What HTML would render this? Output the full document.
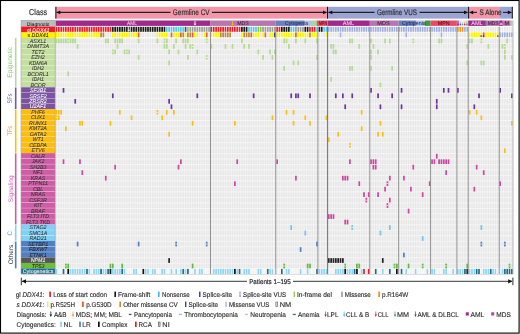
<!DOCTYPE html>
<html><head><meta charset="utf-8"><style>
html,body{margin:0;padding:0;background:#fff;}
svg{display:block;font-family:"Liberation Sans",sans-serif;will-change:transform;text-rendering:geometricPrecision;}
</style></head><body>
<svg width="520" height="334" viewBox="0 0 520 334">
<rect x="0" y="0" width="520" height="334" fill="#fff"/>
<text x="38.10" y="14.80" font-size="8.6" fill="#333" text-anchor="middle" textLength="18" lengthAdjust="spacingAndGlyphs" font-weight="normal" stroke="#333" stroke-width="0.2">Class</text>
<rect x="55.40" y="6.80" width="272.10" height="11.80" fill="#f396a8"/>
<rect x="327.50" y="6.80" width="141.00" height="11.80" fill="#9ba4d2"/>
<rect x="468.50" y="6.80" width="30.70" height="11.80" fill="#f396a8"/>
<rect x="499.20" y="6.80" width="13.30" height="11.80" fill="#9ba4d2"/>
<line x1="55.9" y1="6.8" x2="55.9" y2="18.6" stroke="#111" stroke-width="1"/>
<line x1="327.5" y1="6.8" x2="327.5" y2="18.6" stroke="#111" stroke-width="1"/>
<line x1="468.6" y1="6.8" x2="468.6" y2="18.6" stroke="#111" stroke-width="1"/>
<line x1="512.3" y1="6.8" x2="512.3" y2="18.6" stroke="#111" stroke-width="1"/>
<line x1="56.5" y1="12.4" x2="170.5" y2="12.4" stroke="#222" stroke-width="1.1"/>
<path d="M56.4 12.4 L60.3 10.5 L60.3 14.3 Z" fill="#111"/>
<line x1="212" y1="12.4" x2="326.5" y2="12.4" stroke="#222" stroke-width="1.1"/>
<path d="M326.9 12.4 L323.0 10.5 L323.0 14.3 Z" fill="#111"/>
<line x1="328.5" y1="12.4" x2="374.5" y2="12.4" stroke="#222" stroke-width="1.1"/>
<path d="M328.4 12.4 L332.29999999999995 10.5 L332.29999999999995 14.3 Z" fill="#111"/>
<line x1="419.5" y1="12.4" x2="467.5" y2="12.4" stroke="#222" stroke-width="1.1"/>
<path d="M467.9 12.4 L464.0 10.5 L464.0 14.3 Z" fill="#111"/>
<line x1="469.5" y1="12.4" x2="477" y2="12.4" stroke="#222" stroke-width="1.1"/>
<path d="M469.3 12.4 L473.2 10.5 L473.2 14.3 Z" fill="#111"/>
<line x1="503" y1="12.4" x2="511.5" y2="12.4" stroke="#222" stroke-width="1.1"/>
<path d="M511.7 12.4 L507.8 10.5 L507.8 14.3 Z" fill="#111"/>
<text x="191.20" y="14.90" font-size="8.0" fill="#333" text-anchor="middle" textLength="36.7" lengthAdjust="spacingAndGlyphs" font-weight="normal" stroke="#333" stroke-width="0.2">Germline CV</text>
<text x="396.90" y="14.90" font-size="8.0" fill="#333" text-anchor="middle" textLength="40" lengthAdjust="spacingAndGlyphs" font-weight="normal" stroke="#333" stroke-width="0.2">Germline VUS</text>
<text x="490.50" y="14.90" font-size="8.0" fill="#333" text-anchor="middle" textLength="22" lengthAdjust="spacingAndGlyphs" font-weight="normal" stroke="#333" stroke-width="0.2">S Alone</text>
<rect x="21.00" y="20.30" width="34.10" height="6.20" fill="#bdbdbd"/>
<text x="38.05" y="25.50" font-size="5.2" fill="#222" text-anchor="middle" textLength="22.6" lengthAdjust="spacingAndGlyphs" font-weight="normal" stroke="#222" stroke-width="0.05">Diagnosis</text>
<rect x="21.00" y="26.50" width="34.10" height="5.90" fill="#ed1c24"/>
<text x="38.05" y="31.7" font-size="5.3" fill="#fff" stroke="#fff" stroke-width="0.05" text-anchor="middle">gl <tspan font-style="italic">DDX41</tspan></text>
<rect x="21.00" y="32.40" width="34.10" height="5.70" fill="#fff200"/>
<text x="38.05" y="37.4" font-size="5.3" fill="#222" stroke="#222" stroke-width="0.05" text-anchor="middle">s <tspan font-style="italic">DDX41</tspan></text>
<rect x="21.00" y="37.85" width="34.10" height="5.49" fill="#c4df9f"/>
<text x="38.05" y="42.60" font-size="5.3" fill="#333" text-anchor="middle" font-style="italic" font-weight="normal" stroke="#333" stroke-width="0.05">ASXL1</text>
<rect x="21.00" y="43.34" width="34.10" height="5.49" fill="#c4df9f"/>
<rect x="21.00" y="43.09" width="34.10" height="0.50" fill="#ffffff" opacity="0.45"/>
<text x="38.05" y="48.09" font-size="5.3" fill="#333" text-anchor="middle" font-style="italic" font-weight="normal" stroke="#333" stroke-width="0.05">DNMT3A</text>
<rect x="21.00" y="48.83" width="34.10" height="5.49" fill="#c4df9f"/>
<rect x="21.00" y="48.58" width="34.10" height="0.50" fill="#ffffff" opacity="0.45"/>
<text x="38.05" y="53.58" font-size="5.3" fill="#333" text-anchor="middle" font-style="italic" font-weight="normal" stroke="#333" stroke-width="0.05">TET2</text>
<rect x="21.00" y="54.32" width="34.10" height="5.49" fill="#c4df9f"/>
<rect x="21.00" y="54.07" width="34.10" height="0.50" fill="#ffffff" opacity="0.45"/>
<text x="38.05" y="59.07" font-size="5.3" fill="#333" text-anchor="middle" font-style="italic" font-weight="normal" stroke="#333" stroke-width="0.05">EZH2</text>
<rect x="21.00" y="59.81" width="34.10" height="5.49" fill="#c4df9f"/>
<rect x="21.00" y="59.56" width="34.10" height="0.50" fill="#ffffff" opacity="0.45"/>
<text x="38.05" y="64.56" font-size="5.3" fill="#333" text-anchor="middle" font-style="italic" font-weight="normal" stroke="#333" stroke-width="0.05">KDM6A</text>
<rect x="21.00" y="65.30" width="34.10" height="5.49" fill="#c4df9f"/>
<rect x="21.00" y="65.05" width="34.10" height="0.50" fill="#ffffff" opacity="0.45"/>
<text x="38.05" y="70.05" font-size="5.3" fill="#333" text-anchor="middle" font-style="italic" font-weight="normal" stroke="#333" stroke-width="0.05">IDH2</text>
<rect x="21.00" y="70.79" width="34.10" height="5.49" fill="#c4df9f"/>
<rect x="21.00" y="70.54" width="34.10" height="0.50" fill="#ffffff" opacity="0.45"/>
<text x="38.05" y="75.54" font-size="5.3" fill="#333" text-anchor="middle" font-style="italic" font-weight="normal" stroke="#333" stroke-width="0.05">BCORL1</text>
<rect x="21.00" y="76.28" width="34.10" height="5.49" fill="#c4df9f"/>
<rect x="21.00" y="76.03" width="34.10" height="0.50" fill="#ffffff" opacity="0.45"/>
<text x="38.05" y="81.03" font-size="5.3" fill="#333" text-anchor="middle" font-style="italic" font-weight="normal" stroke="#333" stroke-width="0.05">IDH1</text>
<rect x="21.00" y="81.77" width="34.10" height="5.49" fill="#c4df9f"/>
<rect x="21.00" y="81.52" width="34.10" height="0.50" fill="#ffffff" opacity="0.45"/>
<text x="38.05" y="86.52" font-size="5.3" fill="#333" text-anchor="middle" font-style="italic" font-weight="normal" stroke="#333" stroke-width="0.05">BCOR</text>
<rect x="21.00" y="87.26" width="34.10" height="5.49" fill="#7a54a1"/>
<text x="38.05" y="92.01" font-size="5.3" fill="#fff" text-anchor="middle" font-style="italic" font-weight="normal" stroke="#fff" stroke-width="0.05">SF3B1</text>
<rect x="21.00" y="92.75" width="34.10" height="5.49" fill="#7a54a1"/>
<rect x="21.00" y="92.50" width="34.10" height="0.50" fill="#ffffff" opacity="0.45"/>
<text x="38.05" y="97.50" font-size="5.3" fill="#fff" text-anchor="middle" font-style="italic" font-weight="normal" stroke="#fff" stroke-width="0.05">SRSF2</text>
<rect x="21.00" y="98.24" width="34.10" height="5.49" fill="#7a54a1"/>
<rect x="21.00" y="97.99" width="34.10" height="0.50" fill="#ffffff" opacity="0.45"/>
<text x="38.05" y="102.99" font-size="5.3" fill="#fff" text-anchor="middle" font-style="italic" font-weight="normal" stroke="#fff" stroke-width="0.05">ZRSR2</text>
<rect x="21.00" y="103.73" width="34.10" height="5.49" fill="#7a54a1"/>
<rect x="21.00" y="103.48" width="34.10" height="0.50" fill="#ffffff" opacity="0.45"/>
<text x="38.05" y="108.48" font-size="5.3" fill="#fff" text-anchor="middle" font-style="italic" font-weight="normal" stroke="#fff" stroke-width="0.05">U2AF1</text>
<rect x="21.00" y="109.22" width="34.10" height="5.49" fill="#fdbd10"/>
<text x="38.05" y="113.97" font-size="5.3" fill="#333" text-anchor="middle" font-style="italic" font-weight="normal" stroke="#333" stroke-width="0.05">PHF6</text>
<rect x="21.00" y="114.71" width="34.10" height="5.49" fill="#fdbd10"/>
<rect x="21.00" y="114.46" width="34.10" height="0.50" fill="#ffffff" opacity="0.45"/>
<text x="38.05" y="119.46" font-size="5.3" fill="#333" text-anchor="middle" font-style="italic" font-weight="normal" stroke="#333" stroke-width="0.05">CUX1</text>
<rect x="21.00" y="120.20" width="34.10" height="5.49" fill="#fdbd10"/>
<rect x="21.00" y="119.95" width="34.10" height="0.50" fill="#ffffff" opacity="0.45"/>
<text x="38.05" y="124.95" font-size="5.3" fill="#333" text-anchor="middle" font-style="italic" font-weight="normal" stroke="#333" stroke-width="0.05">RUNX1</text>
<rect x="21.00" y="125.69" width="34.10" height="5.49" fill="#fdbd10"/>
<rect x="21.00" y="125.44" width="34.10" height="0.50" fill="#ffffff" opacity="0.45"/>
<text x="38.05" y="130.44" font-size="5.3" fill="#333" text-anchor="middle" font-style="italic" font-weight="normal" stroke="#333" stroke-width="0.05">KMT2A</text>
<rect x="21.00" y="131.18" width="34.10" height="5.49" fill="#fdbd10"/>
<rect x="21.00" y="130.93" width="34.10" height="0.50" fill="#ffffff" opacity="0.45"/>
<text x="38.05" y="135.93" font-size="5.3" fill="#333" text-anchor="middle" font-style="italic" font-weight="normal" stroke="#333" stroke-width="0.05">GATA2</text>
<rect x="21.00" y="136.67" width="34.10" height="5.49" fill="#fdbd10"/>
<rect x="21.00" y="136.42" width="34.10" height="0.50" fill="#ffffff" opacity="0.45"/>
<text x="38.05" y="141.42" font-size="5.3" fill="#333" text-anchor="middle" font-style="italic" font-weight="normal" stroke="#333" stroke-width="0.05">WT1</text>
<rect x="21.00" y="142.16" width="34.10" height="5.49" fill="#fdbd10"/>
<rect x="21.00" y="141.91" width="34.10" height="0.50" fill="#ffffff" opacity="0.45"/>
<text x="38.05" y="146.91" font-size="5.3" fill="#333" text-anchor="middle" font-style="italic" font-weight="normal" stroke="#333" stroke-width="0.05">CEBPA</text>
<rect x="21.00" y="147.65" width="34.10" height="5.49" fill="#fdbd10"/>
<rect x="21.00" y="147.40" width="34.10" height="0.50" fill="#ffffff" opacity="0.45"/>
<text x="38.05" y="152.40" font-size="5.3" fill="#333" text-anchor="middle" font-style="italic" font-weight="normal" stroke="#333" stroke-width="0.05">ETV6</text>
<rect x="21.00" y="153.14" width="34.10" height="5.49" fill="#cd5ea6"/>
<text x="38.05" y="157.89" font-size="5.3" fill="#333" text-anchor="middle" font-style="italic" font-weight="normal" stroke="#333" stroke-width="0.05">CALR</text>
<rect x="21.00" y="158.63" width="34.10" height="5.49" fill="#cd5ea6"/>
<rect x="21.00" y="158.38" width="34.10" height="0.50" fill="#ffffff" opacity="0.45"/>
<text x="38.05" y="163.38" font-size="5.3" fill="#333" text-anchor="middle" font-style="italic" font-weight="normal" stroke="#333" stroke-width="0.05">JAK2</text>
<rect x="21.00" y="164.12" width="34.10" height="5.49" fill="#cd5ea6"/>
<rect x="21.00" y="163.87" width="34.10" height="0.50" fill="#ffffff" opacity="0.45"/>
<text x="38.05" y="168.87" font-size="5.3" fill="#333" text-anchor="middle" font-style="italic" font-weight="normal" stroke="#333" stroke-width="0.05">SH2B3</text>
<rect x="21.00" y="169.61" width="34.10" height="5.49" fill="#cd5ea6"/>
<rect x="21.00" y="169.36" width="34.10" height="0.50" fill="#ffffff" opacity="0.45"/>
<text x="38.05" y="174.36" font-size="5.3" fill="#333" text-anchor="middle" font-style="italic" font-weight="normal" stroke="#333" stroke-width="0.05">NF1</text>
<rect x="21.00" y="175.10" width="34.10" height="5.49" fill="#cd5ea6"/>
<rect x="21.00" y="174.85" width="34.10" height="0.50" fill="#ffffff" opacity="0.45"/>
<text x="38.05" y="179.85" font-size="5.3" fill="#333" text-anchor="middle" font-style="italic" font-weight="normal" stroke="#333" stroke-width="0.05">KRAS</text>
<rect x="21.00" y="180.59" width="34.10" height="5.49" fill="#cd5ea6"/>
<rect x="21.00" y="180.34" width="34.10" height="0.50" fill="#ffffff" opacity="0.45"/>
<text x="38.05" y="185.34" font-size="5.3" fill="#333" text-anchor="middle" font-style="italic" font-weight="normal" stroke="#333" stroke-width="0.05">PTPN11</text>
<rect x="21.00" y="186.08" width="34.10" height="5.49" fill="#cd5ea6"/>
<rect x="21.00" y="185.83" width="34.10" height="0.50" fill="#ffffff" opacity="0.45"/>
<text x="38.05" y="190.83" font-size="5.3" fill="#333" text-anchor="middle" font-style="italic" font-weight="normal" stroke="#333" stroke-width="0.05">CBL</text>
<rect x="21.00" y="191.57" width="34.10" height="5.49" fill="#cd5ea6"/>
<rect x="21.00" y="191.32" width="34.10" height="0.50" fill="#ffffff" opacity="0.45"/>
<text x="38.05" y="196.32" font-size="5.3" fill="#333" text-anchor="middle" font-style="italic" font-weight="normal" stroke="#333" stroke-width="0.05">NRAS</text>
<rect x="21.00" y="197.06" width="34.10" height="5.49" fill="#cd5ea6"/>
<rect x="21.00" y="196.81" width="34.10" height="0.50" fill="#ffffff" opacity="0.45"/>
<text x="38.05" y="201.81" font-size="5.3" fill="#333" text-anchor="middle" font-style="italic" font-weight="normal" stroke="#333" stroke-width="0.05">CSF3R</text>
<rect x="21.00" y="202.55" width="34.10" height="5.49" fill="#cd5ea6"/>
<rect x="21.00" y="202.30" width="34.10" height="0.50" fill="#ffffff" opacity="0.45"/>
<text x="38.05" y="207.30" font-size="5.3" fill="#333" text-anchor="middle" font-style="italic" font-weight="normal" stroke="#333" stroke-width="0.05">KIT</text>
<rect x="21.00" y="208.04" width="34.10" height="5.49" fill="#cd5ea6"/>
<rect x="21.00" y="207.79" width="34.10" height="0.50" fill="#ffffff" opacity="0.45"/>
<text x="38.05" y="212.79" font-size="5.3" fill="#333" text-anchor="middle" font-style="italic" font-weight="normal" stroke="#333" stroke-width="0.05">BRAF</text>
<rect x="21.00" y="213.53" width="34.10" height="5.49" fill="#cd5ea6"/>
<rect x="21.00" y="213.28" width="34.10" height="0.50" fill="#ffffff" opacity="0.45"/>
<text x="38.05" y="218.28" font-size="5.3" fill="#333" text-anchor="middle" font-style="italic" font-weight="normal" stroke="#333" stroke-width="0.05">FLT3 ITD</text>
<rect x="21.00" y="219.02" width="34.10" height="5.49" fill="#cd5ea6"/>
<rect x="21.00" y="218.77" width="34.10" height="0.50" fill="#ffffff" opacity="0.45"/>
<text x="38.05" y="223.77" font-size="5.3" fill="#333" text-anchor="middle" font-style="italic" font-weight="normal" stroke="#333" stroke-width="0.05">FLT3 TKD</text>
<rect x="21.00" y="224.51" width="34.10" height="5.49" fill="#82d1f5"/>
<text x="38.05" y="229.26" font-size="5.3" fill="#333" text-anchor="middle" font-style="italic" font-weight="normal" stroke="#333" stroke-width="0.05">STAG2</text>
<rect x="21.00" y="230.00" width="34.10" height="5.49" fill="#82d1f5"/>
<rect x="21.00" y="229.75" width="34.10" height="0.50" fill="#ffffff" opacity="0.45"/>
<text x="38.05" y="234.75" font-size="5.3" fill="#333" text-anchor="middle" font-style="italic" font-weight="normal" stroke="#333" stroke-width="0.05">SMC1A</text>
<rect x="21.00" y="235.49" width="34.10" height="5.49" fill="#82d1f5"/>
<rect x="21.00" y="235.24" width="34.10" height="0.50" fill="#ffffff" opacity="0.45"/>
<text x="38.05" y="240.24" font-size="5.3" fill="#333" text-anchor="middle" font-style="italic" font-weight="normal" stroke="#333" stroke-width="0.05">RAD21</text>
<rect x="21.00" y="240.98" width="34.10" height="5.49" fill="#527fc2"/>
<text x="38.05" y="245.73" font-size="5.3" fill="#222" text-anchor="middle" font-style="italic" font-weight="normal" stroke="#222" stroke-width="0.05">SETBP1</text>
<rect x="21.00" y="246.47" width="34.10" height="5.49" fill="#527fc2"/>
<rect x="21.00" y="246.22" width="34.10" height="0.50" fill="#ffffff" opacity="0.45"/>
<text x="38.05" y="251.22" font-size="5.3" fill="#222" text-anchor="middle" font-style="italic" font-weight="normal" stroke="#222" stroke-width="0.05">FBXW7</text>
<rect x="21.00" y="251.96" width="34.10" height="5.49" fill="#527fc2"/>
<rect x="21.00" y="251.71" width="34.10" height="0.50" fill="#ffffff" opacity="0.45"/>
<text x="38.05" y="256.71" font-size="5.3" fill="#222" text-anchor="middle" font-style="italic" font-weight="normal" stroke="#222" stroke-width="0.05">ETNK1</text>
<rect x="21.00" y="257.45" width="34.10" height="5.49" fill="#55555a"/>
<text x="38.05" y="262.20" font-size="5.3" fill="#fff" text-anchor="middle" font-style="italic" font-weight="normal" stroke="#fff" stroke-width="0.05">NPM1</text>
<rect x="21.00" y="262.94" width="34.10" height="5.49" fill="#6ebe3c"/>
<text x="38.05" y="267.69" font-size="5.3" fill="#222" text-anchor="middle" font-style="italic" font-weight="normal" stroke="#222" stroke-width="0.05">TP53</text>
<rect x="21.00" y="268.43" width="34.10" height="5.49" fill="#1e6e8c"/>
<text x="38.05" y="273.18" font-size="5.3" fill="#fff" text-anchor="middle" font-weight="normal" stroke="#fff" stroke-width="0.05">Cytogenetics</text>
<rect x="21.0" y="20.3" width="34.1" height="253.62" fill="none" stroke="#9a9a9a" stroke-width="0.5"/>
<rect x="14.90" y="38.00" width="1.60" height="48.80" fill="#b5d9a0"/>
<rect x="14.90" y="87.50" width="1.60" height="21.50" fill="#7a54a1"/>
<rect x="14.90" y="109.60" width="1.60" height="43.20" fill="#fdbd10"/>
<rect x="14.90" y="153.40" width="1.60" height="71.00" fill="#cd5ea6"/>
<rect x="14.90" y="225.10" width="1.60" height="15.50" fill="#82d1f5"/>
<rect x="14.90" y="241.50" width="1.60" height="26.90" fill="#527fc2"/>
<text x="0" y="0" font-size="6.6" fill="#8ec77a" text-anchor="middle" textLength="30.7" lengthAdjust="spacingAndGlyphs" transform="translate(11.9,62.3) rotate(-90)">Epigenetic</text>
<text x="0" y="0" font-size="6.6" fill="#7650a6" text-anchor="middle" textLength="10" lengthAdjust="spacingAndGlyphs" transform="translate(11.6,98.5) rotate(-90)">SFs</text>
<text x="0" y="0" font-size="6.6" fill="#f5883d" text-anchor="middle" textLength="9.5" lengthAdjust="spacingAndGlyphs" transform="translate(12.0,130.8) rotate(-90)">TFs</text>
<text x="0" y="0" font-size="6.6" fill="#d064b6" text-anchor="middle" textLength="26.8" lengthAdjust="spacingAndGlyphs" transform="translate(12.6,188.8) rotate(-90)">Signaling</text>
<text x="0" y="0" font-size="6.6" fill="#4fa8dc" text-anchor="middle" textLength="4.5" lengthAdjust="spacingAndGlyphs" transform="translate(12.2,233.3) rotate(-90)">C</text>
<text x="0" y="0" font-size="6.6" fill="#333" text-anchor="middle" textLength="19.7" lengthAdjust="spacingAndGlyphs" transform="translate(12.6,254.5) rotate(-90)">Others</text>
<rect x="55.60" y="20.50" width="154.90" height="5.40" fill="#a02a8c"/>
<rect x="210.50" y="20.50" width="65.30" height="5.40" fill="#b776ad"/>
<rect x="275.80" y="20.50" width="28.80" height="5.40" fill="#6b81bf"/>
<rect x="304.60" y="20.50" width="6.40" height="5.40" fill="#aec2ec"/>
<rect x="311.00" y="20.50" width="5.70" height="5.40" fill="#a8d79b"/>
<rect x="316.70" y="20.50" width="1.20" height="5.40" fill="#3b9a48"/>
<rect x="317.90" y="20.50" width="9.70" height="5.40" fill="#ea4b63"/>
<rect x="327.60" y="20.50" width="42.20" height="5.40" fill="#a02a8c"/>
<rect x="369.80" y="20.50" width="28.90" height="5.40" fill="#b776ad"/>
<rect x="398.70" y="20.50" width="17.30" height="5.40" fill="#6b81bf"/>
<rect x="416.00" y="20.50" width="7.00" height="5.40" fill="#aec2ec"/>
<rect x="423.00" y="20.50" width="2.00" height="5.40" fill="#a8d79b"/>
<rect x="425.00" y="20.50" width="5.60" height="5.40" fill="#3b9a48"/>
<rect x="430.60" y="20.50" width="26.30" height="5.40" fill="#ea4b63"/>
<rect x="456.90" y="20.50" width="2.30" height="5.40" fill="#7d8fd6"/>
<rect x="459.20" y="20.50" width="2.40" height="5.40" fill="#f0d8ec"/>
<rect x="461.60" y="20.50" width="1.90" height="5.40" fill="#eef0f8"/>
<rect x="463.50" y="20.50" width="2.40" height="5.40" fill="#f6d8e0"/>
<rect x="465.90" y="20.50" width="2.30" height="5.40" fill="#bfe3b5"/>
<rect x="468.20" y="20.50" width="17.80" height="5.40" fill="#a02a8c"/>
<rect x="486.00" y="20.50" width="13.20" height="5.40" fill="#b776ad"/>
<rect x="499.20" y="20.50" width="3.50" height="5.40" fill="#a11f90"/>
<rect x="502.70" y="20.50" width="8.00" height="5.40" fill="#b776ad"/>
<rect x="510.70" y="20.50" width="1.90" height="5.40" fill="#a8d79b"/>
<text x="132.00" y="25.3" font-size="5.5" fill="#f3cdea" stroke="#f3cdea" stroke-width="0.06" text-anchor="middle" textLength="9.8" lengthAdjust="spacingAndGlyphs">AML</text>
<text x="243.00" y="25.3" font-size="5.5" fill="#3a1838" stroke="#3a1838" stroke-width="0.06" text-anchor="middle" textLength="11.6" lengthAdjust="spacingAndGlyphs">MDS</text>
<text x="296.50" y="25.3" font-size="5.5" fill="#1f2d5a" stroke="#1f2d5a" stroke-width="0.06" text-anchor="middle" textLength="23.0" lengthAdjust="spacingAndGlyphs">Cytopenia</text>
<text x="323.00" y="25.3" font-size="5.5" fill="#4a0c18" stroke="#4a0c18" stroke-width="0.06" text-anchor="middle" textLength="8.0" lengthAdjust="spacingAndGlyphs">MPN</text>
<text x="348.45" y="25.3" font-size="5.5" fill="#f3cdea" stroke="#f3cdea" stroke-width="0.06" text-anchor="middle" textLength="11.5" lengthAdjust="spacingAndGlyphs">AML</text>
<text x="383.45" y="25.3" font-size="5.5" fill="#3a1838" stroke="#3a1838" stroke-width="0.06" text-anchor="middle" textLength="12.3" lengthAdjust="spacingAndGlyphs">MDS</text>
<text x="413.90" y="25.3" font-size="5.5" fill="#1f2d5a" stroke="#1f2d5a" stroke-width="0.06" text-anchor="middle" textLength="23.8" lengthAdjust="spacingAndGlyphs">Cytopenia</text>
<text x="443.70" y="25.3" font-size="5.5" fill="#4a0c18" stroke="#4a0c18" stroke-width="0.06" text-anchor="middle" textLength="11.8" lengthAdjust="spacingAndGlyphs">MPN</text>
<text x="476.95" y="25.3" font-size="5.5" fill="#f3cdea" stroke="#f3cdea" stroke-width="0.06" text-anchor="middle" textLength="11.5" lengthAdjust="spacingAndGlyphs">AML</text>
<text x="493.20" y="25.3" font-size="5.5" fill="#3a1838" stroke="#3a1838" stroke-width="0.06" text-anchor="middle" textLength="10.8" lengthAdjust="spacingAndGlyphs">MDS</text>
<text x="506.80" y="25.3" font-size="5.5" fill="#3a1838" stroke="#3a1838" stroke-width="0.06" text-anchor="middle" textLength="4.6" lengthAdjust="spacingAndGlyphs">M</text>
<text x="501.05" y="25.3" font-size="4.2" fill="#f8e0f4" stroke="#f8e0f4" stroke-width="0.06" text-anchor="middle" textLength="2.5" lengthAdjust="spacingAndGlyphs">a</text>
<rect x="55.60" y="26.80" width="1.72" height="5.00" fill="#ee1d25"/>
<rect x="57.95" y="26.80" width="1.72" height="5.00" fill="#ee1d25"/>
<rect x="60.30" y="26.80" width="1.72" height="5.00" fill="#ee1d25"/>
<rect x="62.64" y="26.80" width="1.72" height="5.00" fill="#ee1d25"/>
<rect x="64.99" y="26.80" width="1.72" height="5.00" fill="#ee1d25"/>
<rect x="67.34" y="26.80" width="1.72" height="5.00" fill="#ee1d25"/>
<rect x="69.69" y="26.80" width="1.72" height="5.00" fill="#ee1d25"/>
<rect x="72.03" y="26.80" width="1.72" height="5.00" fill="#ee1d25"/>
<rect x="74.38" y="26.80" width="1.72" height="5.00" fill="#ee1d25"/>
<rect x="76.73" y="26.80" width="1.72" height="5.00" fill="#ee1d25"/>
<rect x="79.08" y="26.80" width="1.72" height="5.00" fill="#ee1d25"/>
<rect x="81.42" y="26.80" width="1.72" height="5.00" fill="#ee1d25"/>
<rect x="83.77" y="26.80" width="1.72" height="5.00" fill="#ee1d25"/>
<rect x="86.12" y="26.80" width="1.72" height="5.00" fill="#ee1d25"/>
<rect x="88.47" y="26.80" width="1.72" height="5.00" fill="#ee1d25"/>
<rect x="90.81" y="26.80" width="1.72" height="5.00" fill="#ee1d25"/>
<rect x="93.16" y="26.80" width="1.72" height="5.00" fill="#ee1d25"/>
<rect x="95.51" y="26.80" width="1.72" height="5.00" fill="#ee1d25"/>
<rect x="97.86" y="26.80" width="1.72" height="5.00" fill="#ee1d25"/>
<rect x="100.20" y="26.80" width="1.72" height="5.00" fill="#ee1d25"/>
<rect x="102.55" y="26.80" width="1.72" height="5.00" fill="#ee1d25"/>
<rect x="104.90" y="26.80" width="1.72" height="5.00" fill="#ee1d25"/>
<rect x="107.25" y="26.80" width="1.72" height="5.00" fill="#ee1d25"/>
<rect x="109.59" y="26.80" width="1.72" height="5.00" fill="#ee1d25"/>
<rect x="111.94" y="26.80" width="1.72" height="5.00" fill="#1c1c1c"/>
<rect x="114.29" y="26.80" width="1.72" height="5.00" fill="#1c1c1c"/>
<rect x="116.64" y="26.80" width="1.72" height="5.00" fill="#1c1c1c"/>
<rect x="118.98" y="26.80" width="1.72" height="5.00" fill="#1c1c1c"/>
<rect x="121.33" y="26.80" width="1.72" height="5.00" fill="#1c1c1c"/>
<rect x="123.68" y="26.80" width="1.72" height="5.00" fill="#1c1c1c"/>
<rect x="126.03" y="26.80" width="1.72" height="5.00" fill="#1c1c1c"/>
<rect x="128.37" y="26.80" width="1.72" height="5.00" fill="#1c1c1c"/>
<rect x="130.72" y="26.80" width="1.72" height="5.00" fill="#1c1c1c"/>
<rect x="133.07" y="26.80" width="1.72" height="5.00" fill="#1c1c1c"/>
<rect x="135.41" y="26.80" width="1.72" height="5.00" fill="#1c1c1c"/>
<rect x="137.76" y="26.80" width="1.72" height="5.00" fill="#1c1c1c"/>
<rect x="140.11" y="26.80" width="1.72" height="5.00" fill="#1c1c1c"/>
<rect x="142.46" y="26.80" width="1.72" height="5.00" fill="#1c1c1c"/>
<rect x="144.81" y="26.80" width="1.72" height="5.00" fill="#1c1c1c"/>
<rect x="147.15" y="26.80" width="1.72" height="5.00" fill="#1c1c1c"/>
<rect x="149.50" y="26.80" width="1.72" height="5.00" fill="#1c1c1c"/>
<rect x="151.85" y="26.80" width="1.72" height="5.00" fill="#1c1c1c"/>
<rect x="154.19" y="26.80" width="1.72" height="5.00" fill="#1c1c1c"/>
<rect x="156.54" y="26.80" width="1.72" height="5.00" fill="#1c1c1c"/>
<rect x="158.89" y="26.80" width="1.72" height="5.00" fill="#1c1c1c"/>
<rect x="161.24" y="26.80" width="1.72" height="5.00" fill="#1c1c1c"/>
<rect x="163.59" y="26.80" width="1.72" height="5.00" fill="#1c1c1c"/>
<rect x="165.93" y="26.80" width="1.72" height="5.00" fill="#56c5f0"/>
<rect x="168.28" y="26.80" width="1.72" height="5.00" fill="#56c5f0"/>
<rect x="170.63" y="26.80" width="1.72" height="5.00" fill="#56c5f0"/>
<rect x="172.97" y="26.80" width="1.72" height="5.00" fill="#56c5f0"/>
<rect x="175.32" y="26.80" width="1.72" height="5.00" fill="#56c5f0"/>
<rect x="177.67" y="26.80" width="1.72" height="5.00" fill="#56c5f0"/>
<rect x="180.02" y="26.80" width="1.72" height="5.00" fill="#56c5f0"/>
<rect x="182.37" y="26.80" width="1.72" height="5.00" fill="#56c5f0"/>
<rect x="184.71" y="26.80" width="1.72" height="5.00" fill="#2c4fa3"/>
<rect x="187.06" y="26.80" width="1.72" height="5.00" fill="#8cc63f"/>
<rect x="189.41" y="26.80" width="1.72" height="5.00" fill="#9b9b9b"/>
<rect x="191.75" y="26.80" width="1.72" height="5.00" fill="#9b9b9b"/>
<rect x="194.10" y="26.80" width="1.72" height="5.00" fill="#9b9b9b"/>
<rect x="196.45" y="26.80" width="1.72" height="5.00" fill="#9b9b9b"/>
<rect x="198.80" y="26.80" width="1.72" height="5.00" fill="#9b9b9b"/>
<rect x="201.15" y="26.80" width="1.72" height="5.00" fill="#9b9b9b"/>
<rect x="203.49" y="26.80" width="1.72" height="5.00" fill="#9b9b9b"/>
<rect x="205.84" y="26.80" width="1.72" height="5.00" fill="#9b9b9b"/>
<rect x="208.19" y="26.80" width="1.72" height="5.00" fill="#9b9b9b"/>
<rect x="210.53" y="26.80" width="1.72" height="5.00" fill="#ee1d25"/>
<rect x="212.88" y="26.80" width="1.72" height="5.00" fill="#ee1d25"/>
<rect x="215.23" y="26.80" width="1.72" height="5.00" fill="#ee1d25"/>
<rect x="217.58" y="26.80" width="1.72" height="5.00" fill="#ee1d25"/>
<rect x="219.93" y="26.80" width="1.72" height="5.00" fill="#ee1d25"/>
<rect x="222.27" y="26.80" width="1.72" height="5.00" fill="#ee1d25"/>
<rect x="224.62" y="26.80" width="1.72" height="5.00" fill="#ee1d25"/>
<rect x="226.97" y="26.80" width="1.72" height="5.00" fill="#ee1d25"/>
<rect x="229.31" y="26.80" width="1.72" height="5.00" fill="#ee1d25"/>
<rect x="231.66" y="26.80" width="1.72" height="5.00" fill="#ee1d25"/>
<rect x="234.01" y="26.80" width="1.72" height="5.00" fill="#ee1d25"/>
<rect x="236.36" y="26.80" width="1.72" height="5.00" fill="#ee1d25"/>
<rect x="238.71" y="26.80" width="1.72" height="5.00" fill="#ee1d25"/>
<rect x="241.05" y="26.80" width="1.72" height="5.00" fill="#1c1c1c"/>
<rect x="243.40" y="26.80" width="1.72" height="5.00" fill="#1c1c1c"/>
<rect x="245.75" y="26.80" width="1.72" height="5.00" fill="#1c1c1c"/>
<rect x="248.09" y="26.80" width="1.72" height="5.00" fill="#56c5f0"/>
<rect x="250.44" y="26.80" width="1.72" height="5.00" fill="#56c5f0"/>
<rect x="252.79" y="26.80" width="1.72" height="5.00" fill="#56c5f0"/>
<rect x="255.14" y="26.80" width="1.72" height="5.00" fill="#56c5f0"/>
<rect x="257.49" y="26.80" width="1.72" height="5.00" fill="#8cc63f"/>
<rect x="259.83" y="26.80" width="1.72" height="5.00" fill="#8cc63f"/>
<rect x="262.18" y="26.80" width="1.72" height="5.00" fill="#9b9b9b"/>
<rect x="264.53" y="26.80" width="1.72" height="5.00" fill="#9b9b9b"/>
<rect x="266.88" y="26.80" width="1.72" height="5.00" fill="#9b9b9b"/>
<rect x="269.22" y="26.80" width="1.72" height="5.00" fill="#9b9b9b"/>
<rect x="271.57" y="26.80" width="1.72" height="5.00" fill="#9b9b9b"/>
<rect x="273.92" y="26.80" width="1.72" height="5.00" fill="#9b9b9b"/>
<rect x="276.27" y="26.80" width="1.72" height="5.00" fill="#ee1d25"/>
<rect x="278.61" y="26.80" width="1.72" height="5.00" fill="#ee1d25"/>
<rect x="280.96" y="26.80" width="1.72" height="5.00" fill="#1c1c1c"/>
<rect x="283.31" y="26.80" width="1.72" height="5.00" fill="#1c1c1c"/>
<rect x="285.66" y="26.80" width="1.72" height="5.00" fill="#1c1c1c"/>
<rect x="288.00" y="26.80" width="1.72" height="5.00" fill="#1c1c1c"/>
<rect x="290.35" y="26.80" width="1.72" height="5.00" fill="#56c5f0"/>
<rect x="292.70" y="26.80" width="1.72" height="5.00" fill="#56c5f0"/>
<rect x="295.05" y="26.80" width="1.72" height="5.00" fill="#9b9b9b"/>
<rect x="297.39" y="26.80" width="1.72" height="5.00" fill="#9b9b9b"/>
<rect x="299.74" y="26.80" width="1.72" height="5.00" fill="#9b9b9b"/>
<rect x="302.09" y="26.80" width="1.72" height="5.00" fill="#9b9b9b"/>
<rect x="304.44" y="26.80" width="1.72" height="5.00" fill="#1c1c1c"/>
<rect x="306.78" y="26.80" width="1.72" height="5.00" fill="#1c1c1c"/>
<rect x="309.13" y="26.80" width="1.72" height="5.00" fill="#ee1d25"/>
<rect x="311.48" y="26.80" width="1.72" height="5.00" fill="#ee1d25"/>
<rect x="313.83" y="26.80" width="1.72" height="5.00" fill="#ee1d25"/>
<rect x="316.17" y="26.80" width="1.72" height="5.00" fill="#56c5f0"/>
<rect x="318.52" y="26.80" width="1.72" height="5.00" fill="#1c1c1c"/>
<rect x="320.87" y="26.80" width="1.72" height="5.00" fill="#1c1c1c"/>
<rect x="323.22" y="26.80" width="1.72" height="5.00" fill="#56c5f0"/>
<rect x="325.56" y="26.80" width="1.72" height="5.00" fill="#56c5f0"/>
<rect x="327.91" y="26.80" width="1.72" height="5.00" fill="#a3afe0"/>
<rect x="330.26" y="26.80" width="1.72" height="5.00" fill="#a3afe0"/>
<rect x="332.61" y="26.80" width="1.72" height="5.00" fill="#a3afe0"/>
<rect x="334.95" y="26.80" width="1.72" height="5.00" fill="#a3afe0"/>
<rect x="337.30" y="26.80" width="1.72" height="5.00" fill="#a3afe0"/>
<rect x="339.65" y="26.80" width="1.72" height="5.00" fill="#a3afe0"/>
<rect x="342.00" y="26.80" width="1.72" height="5.00" fill="#a3afe0"/>
<rect x="344.34" y="26.80" width="1.72" height="5.00" fill="#a3afe0"/>
<rect x="346.69" y="26.80" width="1.72" height="5.00" fill="#a3afe0"/>
<rect x="349.04" y="26.80" width="1.72" height="5.00" fill="#a3afe0"/>
<rect x="351.39" y="26.80" width="1.72" height="5.00" fill="#a3afe0"/>
<rect x="353.73" y="26.80" width="1.72" height="5.00" fill="#a3afe0"/>
<rect x="356.08" y="26.80" width="1.72" height="5.00" fill="#a3afe0"/>
<rect x="358.43" y="26.80" width="1.72" height="5.00" fill="#a3afe0"/>
<rect x="360.78" y="26.80" width="1.72" height="5.00" fill="#a3afe0"/>
<rect x="363.12" y="26.80" width="1.72" height="5.00" fill="#a3afe0"/>
<rect x="365.47" y="26.80" width="1.72" height="5.00" fill="#a3afe0"/>
<rect x="367.82" y="26.80" width="1.72" height="5.00" fill="#a3afe0"/>
<rect x="370.17" y="26.80" width="1.72" height="5.00" fill="#a3afe0"/>
<rect x="372.51" y="26.80" width="1.72" height="5.00" fill="#a3afe0"/>
<rect x="374.86" y="26.80" width="1.72" height="5.00" fill="#a3afe0"/>
<rect x="377.21" y="26.80" width="1.72" height="5.00" fill="#a3afe0"/>
<rect x="379.56" y="26.80" width="1.72" height="5.00" fill="#a3afe0"/>
<rect x="381.90" y="26.80" width="1.72" height="5.00" fill="#a3afe0"/>
<rect x="384.25" y="26.80" width="1.72" height="5.00" fill="#a3afe0"/>
<rect x="386.60" y="26.80" width="1.72" height="5.00" fill="#a3afe0"/>
<rect x="388.95" y="26.80" width="1.72" height="5.00" fill="#a3afe0"/>
<rect x="391.29" y="26.80" width="1.72" height="5.00" fill="#a3afe0"/>
<rect x="393.64" y="26.80" width="1.72" height="5.00" fill="#a3afe0"/>
<rect x="395.99" y="26.80" width="1.72" height="5.00" fill="#a3afe0"/>
<rect x="398.34" y="26.80" width="1.72" height="5.00" fill="#a3afe0"/>
<rect x="400.68" y="26.80" width="1.72" height="5.00" fill="#a3afe0"/>
<rect x="403.03" y="26.80" width="1.72" height="5.00" fill="#a3afe0"/>
<rect x="405.38" y="26.80" width="1.72" height="5.00" fill="#a3afe0"/>
<rect x="407.73" y="26.80" width="1.72" height="5.00" fill="#a3afe0"/>
<rect x="410.07" y="26.80" width="1.72" height="5.00" fill="#a3afe0"/>
<rect x="412.42" y="26.80" width="1.72" height="5.00" fill="#a3afe0"/>
<rect x="414.77" y="26.80" width="1.72" height="5.00" fill="#a3afe0"/>
<rect x="417.12" y="26.80" width="1.72" height="5.00" fill="#a3afe0"/>
<rect x="419.46" y="26.80" width="1.72" height="5.00" fill="#a3afe0"/>
<rect x="421.81" y="26.80" width="1.72" height="5.00" fill="#a3afe0"/>
<rect x="424.16" y="26.80" width="1.72" height="5.00" fill="#a3afe0"/>
<rect x="426.51" y="26.80" width="1.72" height="5.00" fill="#a3afe0"/>
<rect x="428.85" y="26.80" width="1.72" height="5.00" fill="#a3afe0"/>
<rect x="431.20" y="26.80" width="1.72" height="5.00" fill="#a3afe0"/>
<rect x="433.55" y="26.80" width="1.72" height="5.00" fill="#a3afe0"/>
<rect x="435.90" y="26.80" width="1.72" height="5.00" fill="#a3afe0"/>
<rect x="438.24" y="26.80" width="1.72" height="5.00" fill="#a3afe0"/>
<rect x="440.59" y="26.80" width="1.72" height="5.00" fill="#a3afe0"/>
<rect x="442.94" y="26.80" width="1.72" height="5.00" fill="#a3afe0"/>
<rect x="445.29" y="26.80" width="1.72" height="5.00" fill="#a3afe0"/>
<rect x="447.63" y="26.80" width="1.72" height="5.00" fill="#a3afe0"/>
<rect x="449.98" y="26.80" width="1.72" height="5.00" fill="#a3afe0"/>
<rect x="452.33" y="26.80" width="1.72" height="5.00" fill="#a3afe0"/>
<rect x="454.68" y="26.80" width="1.72" height="5.00" fill="#a3afe0"/>
<rect x="457.02" y="26.80" width="1.72" height="5.00" fill="#f7941d"/>
<rect x="459.37" y="26.80" width="1.72" height="5.00" fill="#f7941d"/>
<rect x="461.72" y="26.80" width="1.72" height="5.00" fill="#f7941d"/>
<rect x="464.07" y="26.80" width="1.72" height="5.00" fill="#a3afe0"/>
<rect x="466.41" y="26.80" width="1.72" height="5.00" fill="#a3afe0"/>
<rect x="468.76" y="26.80" width="1.72" height="5.00" fill="#e7e7e7"/>
<rect x="471.11" y="26.80" width="1.72" height="5.00" fill="#e7e7e7"/>
<rect x="473.46" y="26.80" width="1.72" height="5.00" fill="#e7e7e7"/>
<rect x="475.80" y="26.80" width="1.72" height="5.00" fill="#e7e7e7"/>
<rect x="478.15" y="26.80" width="1.72" height="5.00" fill="#e7e7e7"/>
<rect x="480.50" y="26.80" width="1.72" height="5.00" fill="#e7e7e7"/>
<rect x="482.85" y="26.80" width="1.72" height="5.00" fill="#e7e7e7"/>
<rect x="485.19" y="26.80" width="1.72" height="5.00" fill="#e7e7e7"/>
<rect x="487.54" y="26.80" width="1.72" height="5.00" fill="#e7e7e7"/>
<rect x="489.89" y="26.80" width="1.72" height="5.00" fill="#e7e7e7"/>
<rect x="492.24" y="26.80" width="1.72" height="5.00" fill="#e7e7e7"/>
<rect x="494.58" y="26.80" width="1.72" height="5.00" fill="#e7e7e7"/>
<rect x="496.93" y="26.80" width="1.72" height="5.00" fill="#e7e7e7"/>
<rect x="499.28" y="26.80" width="1.72" height="5.00" fill="#e7e7e7"/>
<rect x="501.63" y="26.80" width="1.72" height="5.00" fill="#e7e7e7"/>
<rect x="503.97" y="26.80" width="1.72" height="5.00" fill="#e7e7e7"/>
<rect x="506.32" y="26.80" width="1.72" height="5.00" fill="#e7e7e7"/>
<rect x="508.67" y="26.80" width="1.72" height="5.00" fill="#e7e7e7"/>
<rect x="511.02" y="26.80" width="1.72" height="5.00" fill="#e7e7e7"/>
<rect x="55.60" y="32.40" width="1.72" height="4.90" fill="#fff200"/>
<rect x="57.95" y="32.40" width="1.72" height="4.90" fill="#fff200"/>
<rect x="60.30" y="32.40" width="1.72" height="4.90" fill="#fff200"/>
<rect x="62.64" y="32.40" width="1.72" height="4.90" fill="#fff200"/>
<rect x="64.99" y="32.40" width="1.72" height="4.90" fill="#fff200"/>
<rect x="67.34" y="32.40" width="1.72" height="4.90" fill="#fff200"/>
<rect x="69.69" y="32.40" width="1.72" height="4.90" fill="#fff200"/>
<rect x="72.03" y="32.40" width="1.72" height="4.90" fill="#fff200"/>
<rect x="74.38" y="32.40" width="1.72" height="4.90" fill="#fff200"/>
<rect x="76.73" y="32.40" width="1.72" height="4.90" fill="#fff200"/>
<rect x="79.08" y="32.40" width="1.72" height="4.90" fill="#fff200"/>
<rect x="81.42" y="32.40" width="1.72" height="4.90" fill="#fff200"/>
<rect x="83.77" y="32.40" width="1.72" height="4.90" fill="#fff200"/>
<rect x="86.12" y="32.40" width="1.72" height="4.90" fill="#fff200"/>
<rect x="88.47" y="32.40" width="1.72" height="4.90" fill="#fff200"/>
<rect x="90.81" y="32.40" width="1.72" height="4.90" fill="#fff200"/>
<rect x="93.16" y="32.40" width="1.72" height="4.90" fill="#fff200"/>
<rect x="95.51" y="32.40" width="1.72" height="4.90" fill="#fff200"/>
<rect x="97.86" y="32.40" width="1.72" height="4.90" fill="#fff200"/>
<rect x="100.20" y="32.40" width="1.72" height="4.90" fill="#b9883a"/>
<rect x="102.55" y="32.40" width="1.72" height="4.90" fill="#b9883a"/>
<rect x="104.90" y="32.40" width="1.72" height="4.90" fill="#e7e7e7"/>
<rect x="107.25" y="32.40" width="1.72" height="4.90" fill="#e7e7e7"/>
<rect x="109.59" y="32.40" width="1.72" height="4.90" fill="#e7e7e7"/>
<rect x="111.94" y="32.40" width="1.72" height="4.90" fill="#fff200"/>
<rect x="114.29" y="32.40" width="1.72" height="4.90" fill="#fff200"/>
<rect x="116.64" y="32.40" width="1.72" height="4.90" fill="#fff200"/>
<rect x="118.98" y="32.40" width="1.72" height="4.90" fill="#fff200"/>
<rect x="121.33" y="32.40" width="1.72" height="4.90" fill="#fff200"/>
<rect x="123.68" y="32.40" width="1.72" height="4.90" fill="#fff200"/>
<rect x="126.03" y="32.40" width="1.72" height="4.90" fill="#fff200"/>
<rect x="128.37" y="32.40" width="1.72" height="4.90" fill="#fff200"/>
<rect x="130.72" y="32.40" width="1.72" height="4.90" fill="#fff200"/>
<rect x="133.07" y="32.40" width="1.72" height="4.90" fill="#fff200"/>
<rect x="135.41" y="32.40" width="1.72" height="4.90" fill="#fff200"/>
<rect x="137.76" y="32.40" width="1.72" height="4.90" fill="#f15a24"/>
<rect x="140.11" y="32.40" width="1.72" height="4.90" fill="#e7e7e7"/>
<rect x="142.46" y="32.40" width="1.72" height="4.90" fill="#e7e7e7"/>
<rect x="144.81" y="32.40" width="1.72" height="4.90" fill="#e7e7e7"/>
<rect x="147.15" y="32.40" width="1.72" height="4.90" fill="#e7e7e7"/>
<rect x="149.50" y="32.40" width="1.72" height="4.90" fill="#e7e7e7"/>
<rect x="151.85" y="32.40" width="1.72" height="4.90" fill="#e7e7e7"/>
<rect x="154.19" y="32.40" width="1.72" height="4.90" fill="#e7e7e7"/>
<rect x="156.54" y="32.40" width="1.72" height="4.90" fill="#fff200"/>
<rect x="158.89" y="32.40" width="1.72" height="4.90" fill="#fff200"/>
<rect x="161.24" y="32.40" width="1.72" height="4.90" fill="#fff200"/>
<rect x="163.59" y="32.40" width="1.72" height="4.90" fill="#fff200"/>
<rect x="165.93" y="32.40" width="1.72" height="4.90" fill="#fff200"/>
<rect x="168.28" y="32.40" width="1.72" height="4.90" fill="#e7e7e7"/>
<rect x="170.63" y="32.40" width="1.72" height="4.90" fill="#f15a24"/>
<rect x="172.97" y="32.40" width="1.72" height="4.90" fill="#fff200"/>
<rect x="175.32" y="32.40" width="1.72" height="4.90" fill="#fff200"/>
<rect x="177.67" y="32.40" width="1.72" height="4.90" fill="#fff200"/>
<rect x="180.02" y="32.40" width="1.72" height="4.90" fill="#f15a24"/>
<rect x="182.37" y="32.40" width="1.72" height="4.90" fill="#b9883a"/>
<rect x="184.71" y="32.40" width="1.72" height="4.90" fill="#fff200"/>
<rect x="187.06" y="32.40" width="1.72" height="4.90" fill="#b9883a"/>
<rect x="189.41" y="32.40" width="1.72" height="4.90" fill="#b9883a"/>
<rect x="191.75" y="32.40" width="1.72" height="4.90" fill="#f15a24"/>
<rect x="194.10" y="32.40" width="1.72" height="4.90" fill="#fff200"/>
<rect x="196.45" y="32.40" width="1.72" height="4.90" fill="#fff200"/>
<rect x="198.80" y="32.40" width="1.72" height="4.90" fill="#e7e7e7"/>
<rect x="201.15" y="32.40" width="1.72" height="4.90" fill="#e7e7e7"/>
<rect x="203.49" y="32.40" width="1.72" height="4.90" fill="#fff200"/>
<rect x="205.84" y="32.40" width="1.72" height="4.90" fill="#f15a24"/>
<rect x="208.19" y="32.40" width="1.72" height="4.90" fill="#e7e7e7"/>
<rect x="210.53" y="32.40" width="1.72" height="4.90" fill="#fff200"/>
<rect x="212.88" y="32.40" width="1.72" height="4.90" fill="#fff200"/>
<rect x="215.23" y="32.40" width="1.72" height="4.90" fill="#fff200"/>
<rect x="217.58" y="32.40" width="1.72" height="4.90" fill="#fff200"/>
<rect x="219.93" y="32.40" width="1.72" height="4.90" fill="#b9883a"/>
<rect x="222.27" y="32.40" width="1.72" height="4.90" fill="#b9883a"/>
<rect x="224.62" y="32.40" width="1.72" height="4.90" fill="#b9883a"/>
<rect x="226.97" y="32.40" width="1.72" height="4.90" fill="#b9883a"/>
<rect x="229.31" y="32.40" width="1.72" height="4.90" fill="#b9883a"/>
<rect x="231.66" y="32.40" width="1.72" height="4.90" fill="#e7e7e7"/>
<rect x="234.01" y="32.40" width="1.72" height="4.90" fill="#e7e7e7"/>
<rect x="236.36" y="32.40" width="1.72" height="4.90" fill="#e7e7e7"/>
<rect x="238.71" y="32.40" width="1.72" height="4.90" fill="#e7e7e7"/>
<rect x="241.05" y="32.40" width="1.72" height="4.90" fill="#fff200"/>
<rect x="243.40" y="32.40" width="1.72" height="4.90" fill="#b9883a"/>
<rect x="245.75" y="32.40" width="1.72" height="4.90" fill="#b9883a"/>
<rect x="248.09" y="32.40" width="1.72" height="4.90" fill="#b9883a"/>
<rect x="250.44" y="32.40" width="1.72" height="4.90" fill="#f15a24"/>
<rect x="252.79" y="32.40" width="1.72" height="4.90" fill="#fff200"/>
<rect x="255.14" y="32.40" width="1.72" height="4.90" fill="#fff200"/>
<rect x="257.49" y="32.40" width="1.72" height="4.90" fill="#fff200"/>
<rect x="259.83" y="32.40" width="1.72" height="4.90" fill="#e7e7e7"/>
<rect x="262.18" y="32.40" width="1.72" height="4.90" fill="#fff200"/>
<rect x="264.53" y="32.40" width="1.72" height="4.90" fill="#f15a24"/>
<rect x="266.88" y="32.40" width="1.72" height="4.90" fill="#e7e7e7"/>
<rect x="269.22" y="32.40" width="1.72" height="4.90" fill="#fff200"/>
<rect x="271.57" y="32.40" width="1.72" height="4.90" fill="#fff200"/>
<rect x="273.92" y="32.40" width="1.72" height="4.90" fill="#2c4fa3"/>
<rect x="276.27" y="32.40" width="1.72" height="4.90" fill="#fff200"/>
<rect x="278.61" y="32.40" width="1.72" height="4.90" fill="#fff200"/>
<rect x="280.96" y="32.40" width="1.72" height="4.90" fill="#fff200"/>
<rect x="283.31" y="32.40" width="1.72" height="4.90" fill="#fff200"/>
<rect x="285.66" y="32.40" width="1.72" height="4.90" fill="#fff200"/>
<rect x="288.00" y="32.40" width="1.72" height="4.90" fill="#fff200"/>
<rect x="290.35" y="32.40" width="1.72" height="4.90" fill="#fff200"/>
<rect x="292.70" y="32.40" width="1.72" height="4.90" fill="#fff200"/>
<rect x="295.05" y="32.40" width="1.72" height="4.90" fill="#f15a24"/>
<rect x="297.39" y="32.40" width="1.72" height="4.90" fill="#fff200"/>
<rect x="299.74" y="32.40" width="1.72" height="4.90" fill="#fff200"/>
<rect x="302.09" y="32.40" width="1.72" height="4.90" fill="#fff200"/>
<rect x="304.44" y="32.40" width="1.72" height="4.90" fill="#fff200"/>
<rect x="306.78" y="32.40" width="1.72" height="4.90" fill="#fff200"/>
<rect x="309.13" y="32.40" width="1.72" height="4.90" fill="#b9883a"/>
<rect x="311.48" y="32.40" width="1.72" height="4.90" fill="#fff200"/>
<rect x="313.83" y="32.40" width="1.72" height="4.90" fill="#fff200"/>
<rect x="316.17" y="32.40" width="1.72" height="4.90" fill="#fff200"/>
<rect x="318.52" y="32.40" width="1.72" height="4.90" fill="#e7e7e7"/>
<rect x="320.87" y="32.40" width="1.72" height="4.90" fill="#e7e7e7"/>
<rect x="323.22" y="32.40" width="1.72" height="4.90" fill="#e7e7e7"/>
<rect x="325.56" y="32.40" width="1.72" height="4.90" fill="#fff200"/>
<rect x="327.91" y="32.40" width="1.72" height="4.90" fill="#e7e7e7"/>
<rect x="330.26" y="32.40" width="1.72" height="4.90" fill="#e7e7e7"/>
<rect x="332.61" y="32.40" width="1.72" height="4.90" fill="#e7e7e7"/>
<rect x="334.95" y="32.40" width="1.72" height="4.90" fill="#e7e7e7"/>
<rect x="337.30" y="32.40" width="1.72" height="4.90" fill="#e7e7e7"/>
<rect x="339.65" y="32.40" width="1.72" height="4.90" fill="#a3afe0"/>
<rect x="342.00" y="32.40" width="1.72" height="4.90" fill="#e7e7e7"/>
<rect x="344.34" y="32.40" width="1.72" height="4.90" fill="#e7e7e7"/>
<rect x="346.69" y="32.40" width="1.72" height="4.90" fill="#e7e7e7"/>
<rect x="349.04" y="32.40" width="1.72" height="4.90" fill="#e7e7e7"/>
<rect x="351.39" y="32.40" width="1.72" height="4.90" fill="#e7e7e7"/>
<rect x="353.73" y="32.40" width="1.72" height="4.90" fill="#e7e7e7"/>
<rect x="356.08" y="32.40" width="1.72" height="4.90" fill="#e7e7e7"/>
<rect x="358.43" y="32.40" width="1.72" height="4.90" fill="#e7e7e7"/>
<rect x="360.78" y="32.40" width="1.72" height="4.90" fill="#e7e7e7"/>
<rect x="363.12" y="32.40" width="1.72" height="4.90" fill="#e7e7e7"/>
<rect x="365.47" y="32.40" width="1.72" height="4.90" fill="#e7e7e7"/>
<rect x="367.82" y="32.40" width="1.72" height="4.90" fill="#e7e7e7"/>
<rect x="370.17" y="32.40" width="1.72" height="4.90" fill="#e7e7e7"/>
<rect x="372.51" y="32.40" width="1.72" height="4.90" fill="#e7e7e7"/>
<rect x="374.86" y="32.40" width="1.72" height="4.90" fill="#e7e7e7"/>
<rect x="377.21" y="32.40" width="1.72" height="4.90" fill="#e7e7e7"/>
<rect x="379.56" y="32.40" width="1.72" height="4.90" fill="#e7e7e7"/>
<rect x="381.90" y="32.40" width="1.72" height="4.90" fill="#e7e7e7"/>
<rect x="384.25" y="32.40" width="1.72" height="4.90" fill="#e7e7e7"/>
<rect x="386.60" y="32.40" width="1.72" height="4.90" fill="#e7e7e7"/>
<rect x="388.95" y="32.40" width="1.72" height="4.90" fill="#e7e7e7"/>
<rect x="391.29" y="32.40" width="1.72" height="4.90" fill="#e7e7e7"/>
<rect x="393.64" y="32.40" width="1.72" height="4.90" fill="#e7e7e7"/>
<rect x="395.99" y="32.40" width="1.72" height="4.90" fill="#e7e7e7"/>
<rect x="398.34" y="32.40" width="1.72" height="4.90" fill="#e7e7e7"/>
<rect x="400.68" y="32.40" width="1.72" height="4.90" fill="#e7e7e7"/>
<rect x="403.03" y="32.40" width="1.72" height="4.90" fill="#e7e7e7"/>
<rect x="405.38" y="32.40" width="1.72" height="4.90" fill="#a3afe0"/>
<rect x="407.73" y="32.40" width="1.72" height="4.90" fill="#e7e7e7"/>
<rect x="410.07" y="32.40" width="1.72" height="4.90" fill="#e7e7e7"/>
<rect x="412.42" y="32.40" width="1.72" height="4.90" fill="#e7e7e7"/>
<rect x="414.77" y="32.40" width="1.72" height="4.90" fill="#e7e7e7"/>
<rect x="417.12" y="32.40" width="1.72" height="4.90" fill="#e7e7e7"/>
<rect x="419.46" y="32.40" width="1.72" height="4.90" fill="#e7e7e7"/>
<rect x="421.81" y="32.40" width="1.72" height="4.90" fill="#e7e7e7"/>
<rect x="424.16" y="32.40" width="1.72" height="4.90" fill="#e7e7e7"/>
<rect x="426.51" y="32.40" width="1.72" height="4.90" fill="#e7e7e7"/>
<rect x="428.85" y="32.40" width="1.72" height="4.90" fill="#e7e7e7"/>
<rect x="431.20" y="32.40" width="1.72" height="4.90" fill="#e7e7e7"/>
<rect x="433.55" y="32.40" width="1.72" height="4.90" fill="#e7e7e7"/>
<rect x="435.90" y="32.40" width="1.72" height="4.90" fill="#e7e7e7"/>
<rect x="438.24" y="32.40" width="1.72" height="4.90" fill="#e7e7e7"/>
<rect x="440.59" y="32.40" width="1.72" height="4.90" fill="#a3afe0"/>
<rect x="442.94" y="32.40" width="1.72" height="4.90" fill="#e7e7e7"/>
<rect x="445.29" y="32.40" width="1.72" height="4.90" fill="#e7e7e7"/>
<rect x="447.63" y="32.40" width="1.72" height="4.90" fill="#e7e7e7"/>
<rect x="449.98" y="32.40" width="1.72" height="4.90" fill="#e7e7e7"/>
<rect x="452.33" y="32.40" width="1.72" height="4.90" fill="#e7e7e7"/>
<rect x="454.68" y="32.40" width="1.72" height="4.90" fill="#e7e7e7"/>
<rect x="457.02" y="32.40" width="1.72" height="4.90" fill="#e7e7e7"/>
<rect x="459.37" y="32.40" width="1.72" height="4.90" fill="#e7e7e7"/>
<rect x="461.72" y="32.40" width="1.72" height="4.90" fill="#e7e7e7"/>
<rect x="464.07" y="32.40" width="1.72" height="4.90" fill="#e7e7e7"/>
<rect x="466.41" y="32.40" width="1.72" height="4.90" fill="#e7e7e7"/>
<rect x="468.76" y="32.40" width="1.72" height="4.90" fill="#fff200"/>
<rect x="471.11" y="32.40" width="1.72" height="4.90" fill="#fff200"/>
<rect x="473.46" y="32.40" width="1.72" height="4.90" fill="#fff200"/>
<rect x="475.80" y="32.40" width="1.72" height="4.90" fill="#fff200"/>
<rect x="478.15" y="32.40" width="1.72" height="4.90" fill="#fff200"/>
<rect x="480.50" y="32.40" width="1.72" height="4.90" fill="#fff200"/>
<rect x="482.85" y="32.40" width="1.72" height="4.90" fill="#f15a24"/>
<rect x="485.19" y="32.40" width="1.72" height="4.90" fill="#fff200"/>
<rect x="487.54" y="32.40" width="1.72" height="4.90" fill="#fff200"/>
<rect x="489.89" y="32.40" width="1.72" height="4.90" fill="#fff200"/>
<rect x="492.24" y="32.40" width="1.72" height="4.90" fill="#fff200"/>
<rect x="494.58" y="32.40" width="1.72" height="4.90" fill="#fff200"/>
<rect x="496.93" y="32.40" width="1.72" height="4.90" fill="#fff200"/>
<rect x="499.28" y="32.40" width="1.72" height="4.90" fill="#a3afe0"/>
<rect x="501.63" y="32.40" width="1.72" height="4.90" fill="#a3afe0"/>
<rect x="503.97" y="32.40" width="1.72" height="4.90" fill="#a3afe0"/>
<rect x="506.32" y="32.40" width="1.72" height="4.90" fill="#a3afe0"/>
<rect x="508.67" y="32.40" width="1.72" height="4.90" fill="#a3afe0"/>
<rect x="511.02" y="32.40" width="1.72" height="4.90" fill="#a3afe0"/>
<path d="M128.80 27.00V30.00" stroke="#e4ecff" stroke-width="0.9"/><path d="M127.30 29.80H130.30L128.80 31.70Z" fill="#e4ecff"/>
<path d="M195.00 21.00V24.00" stroke="#ffffff" stroke-width="0.9"/><path d="M193.50 23.80H196.50L195.00 25.60Z" fill="#ffffff"/>
<path d="M232.50 21.10V24.00" stroke="#fbb015" stroke-width="0.9"/><path d="M231.00 23.80H234.00L232.50 25.60Z" fill="#fbb015"/>
<path d="M485.70 21.10V24.00" stroke="#3f86d8" stroke-width="0.9"/><path d="M484.20 23.80H487.20L485.70 25.60Z" fill="#3f86d8"/>
<path d="M458.00 22.60V24.30" stroke="#b0209a" stroke-width="0.5"/><path d="M457.00 24.10H459.00L458.00 25.70Z" fill="#b0209a"/>
<path d="M460.40 22.60V24.30" stroke="#b0209a" stroke-width="0.5"/><path d="M459.40 24.10H461.40L460.40 25.70Z" fill="#b0209a"/>
<path d="M462.50 22.60V24.30" stroke="#29b6d8" stroke-width="0.5"/><path d="M461.50 24.10H463.50L462.50 25.70Z" fill="#29b6d8"/>
<path d="M464.70 22.60V24.30" stroke="#e2202a" stroke-width="0.5"/><path d="M463.70 24.10H465.70L464.70 25.70Z" fill="#e2202a"/>
<path d="M467.00 22.60V24.30" stroke="#3aaa48" stroke-width="0.5"/><path d="M466.00 24.10H468.00L467.00 25.70Z" fill="#3aaa48"/>
<rect x="480.40" y="35.40" width="1.40" height="1.40" fill="#8a1a10"/>
<rect x="482.80" y="35.40" width="1.40" height="1.40" fill="#8a1a10"/>
<rect x="497.20" y="35.40" width="1.40" height="1.40" fill="#8a1a10"/>
<rect x="55.30" y="38.55" width="457.76" height="229.81" fill="#e7e7e7"/>
<path d="M57.63 38.55V268.36M59.98 38.55V268.36M62.33 38.55V268.36M64.68 38.55V268.36M67.02 38.55V268.36M69.37 38.55V268.36M71.72 38.55V268.36M74.07 38.55V268.36M76.41 38.55V268.36M78.76 38.55V268.36M81.11 38.55V268.36M83.46 38.55V268.36M85.80 38.55V268.36M88.15 38.55V268.36M90.50 38.55V268.36M92.85 38.55V268.36M95.19 38.55V268.36M97.54 38.55V268.36M99.89 38.55V268.36M102.24 38.55V268.36M104.58 38.55V268.36M106.93 38.55V268.36M109.28 38.55V268.36M111.63 38.55V268.36M113.97 38.55V268.36M116.32 38.55V268.36M118.67 38.55V268.36M121.02 38.55V268.36M123.36 38.55V268.36M125.71 38.55V268.36M128.06 38.55V268.36M130.41 38.55V268.36M132.75 38.55V268.36M135.10 38.55V268.36M137.45 38.55V268.36M139.80 38.55V268.36M142.14 38.55V268.36M144.49 38.55V268.36M146.84 38.55V268.36M149.19 38.55V268.36M151.53 38.55V268.36M153.88 38.55V268.36M156.23 38.55V268.36M158.58 38.55V268.36M160.92 38.55V268.36M163.27 38.55V268.36M165.62 38.55V268.36M167.97 38.55V268.36M170.31 38.55V268.36M172.66 38.55V268.36M175.01 38.55V268.36M177.36 38.55V268.36M179.70 38.55V268.36M182.05 38.55V268.36M184.40 38.55V268.36M186.75 38.55V268.36M189.09 38.55V268.36M191.44 38.55V268.36M193.79 38.55V268.36M196.14 38.55V268.36M198.48 38.55V268.36M200.83 38.55V268.36M203.18 38.55V268.36M205.53 38.55V268.36M207.87 38.55V268.36M210.22 38.55V268.36M212.57 38.55V268.36M214.92 38.55V268.36M217.26 38.55V268.36M219.61 38.55V268.36M221.96 38.55V268.36M224.31 38.55V268.36M226.65 38.55V268.36M229.00 38.55V268.36M231.35 38.55V268.36M233.70 38.55V268.36M236.04 38.55V268.36M238.39 38.55V268.36M240.74 38.55V268.36M243.09 38.55V268.36M245.43 38.55V268.36M247.78 38.55V268.36M250.13 38.55V268.36M252.48 38.55V268.36M254.82 38.55V268.36M257.17 38.55V268.36M259.52 38.55V268.36M261.87 38.55V268.36M264.21 38.55V268.36M266.56 38.55V268.36M268.91 38.55V268.36M271.26 38.55V268.36M273.60 38.55V268.36M275.95 38.55V268.36M278.30 38.55V268.36M280.65 38.55V268.36M282.99 38.55V268.36M285.34 38.55V268.36M287.69 38.55V268.36M290.04 38.55V268.36M292.38 38.55V268.36M294.73 38.55V268.36M297.08 38.55V268.36M299.43 38.55V268.36M301.77 38.55V268.36M304.12 38.55V268.36M306.47 38.55V268.36M308.82 38.55V268.36M311.16 38.55V268.36M313.51 38.55V268.36M315.86 38.55V268.36M318.21 38.55V268.36M320.55 38.55V268.36M322.90 38.55V268.36M325.25 38.55V268.36M327.60 38.55V268.36M329.94 38.55V268.36M332.29 38.55V268.36M334.64 38.55V268.36M336.99 38.55V268.36M339.33 38.55V268.36M341.68 38.55V268.36M344.03 38.55V268.36M346.38 38.55V268.36M348.72 38.55V268.36M351.07 38.55V268.36M353.42 38.55V268.36M355.77 38.55V268.36M358.11 38.55V268.36M360.46 38.55V268.36M362.81 38.55V268.36M365.16 38.55V268.36M367.50 38.55V268.36M369.85 38.55V268.36M372.20 38.55V268.36M374.55 38.55V268.36M376.89 38.55V268.36M379.24 38.55V268.36M381.59 38.55V268.36M383.94 38.55V268.36M386.28 38.55V268.36M388.63 38.55V268.36M390.98 38.55V268.36M393.33 38.55V268.36M395.67 38.55V268.36M398.02 38.55V268.36M400.37 38.55V268.36M402.72 38.55V268.36M405.06 38.55V268.36M407.41 38.55V268.36M409.76 38.55V268.36M412.11 38.55V268.36M414.45 38.55V268.36M416.80 38.55V268.36M419.15 38.55V268.36M421.50 38.55V268.36M423.84 38.55V268.36M426.19 38.55V268.36M428.54 38.55V268.36M430.89 38.55V268.36M433.23 38.55V268.36M435.58 38.55V268.36M437.93 38.55V268.36M440.28 38.55V268.36M442.62 38.55V268.36M444.97 38.55V268.36M447.32 38.55V268.36M449.67 38.55V268.36M452.01 38.55V268.36M454.36 38.55V268.36M456.71 38.55V268.36M459.06 38.55V268.36M461.40 38.55V268.36M463.75 38.55V268.36M466.10 38.55V268.36M468.45 38.55V268.36M470.79 38.55V268.36M473.14 38.55V268.36M475.49 38.55V268.36M477.84 38.55V268.36M480.18 38.55V268.36M482.53 38.55V268.36M484.88 38.55V268.36M487.23 38.55V268.36M489.57 38.55V268.36M491.92 38.55V268.36M494.27 38.55V268.36M496.62 38.55V268.36M498.96 38.55V268.36M501.31 38.55V268.36M503.66 38.55V268.36M506.01 38.55V268.36M508.35 38.55V268.36M510.70 38.55V268.36" stroke="#fafafa" stroke-width="0.63"/>
<path d="M55.30 43.66H513.36M55.30 49.14H513.36M55.30 54.63H513.36M55.30 60.12H513.36M55.30 65.61H513.36M55.30 71.11H513.36M55.30 76.59H513.36M55.30 82.08H513.36M55.30 87.58H513.36M55.30 93.07H513.36M55.30 98.55H513.36M55.30 104.05H513.36M55.30 109.54H513.36M55.30 115.02H513.36M55.30 120.52H513.36M55.30 126.01H513.36M55.30 131.50H513.36M55.30 136.99H513.36M55.30 142.48H513.36M55.30 147.97H513.36M55.30 153.46H513.36M55.30 158.95H513.36M55.30 164.44H513.36M55.30 169.93H513.36M55.30 175.42H513.36M55.30 180.91H513.36M55.30 186.40H513.36M55.30 191.89H513.36M55.30 197.38H513.36M55.30 202.87H513.36M55.30 208.36H513.36M55.30 213.85H513.36M55.30 219.34H513.36M55.30 224.83H513.36M55.30 230.32H513.36M55.30 235.81H513.36M55.30 241.30H513.36M55.30 246.79H513.36M55.30 252.28H513.36M55.30 257.76H513.36M55.30 263.25H513.36" stroke="#f8f8f8" stroke-width="0.77"/>
<rect x="55.60" y="38.55" width="1.72" height="4.72" fill="#b3d991"/>
<rect x="57.95" y="38.55" width="1.72" height="4.72" fill="#b3d991"/>
<rect x="60.30" y="38.55" width="1.72" height="4.72" fill="#b3d991"/>
<rect x="62.64" y="38.55" width="1.72" height="4.72" fill="#b3d991"/>
<rect x="64.99" y="38.55" width="1.72" height="4.72" fill="#b3d991"/>
<rect x="67.34" y="38.55" width="1.72" height="4.72" fill="#b3d991"/>
<rect x="67.34" y="40.56" width="1.72" height="0.70" fill="#fff"/>
<rect x="69.69" y="38.55" width="1.72" height="4.72" fill="#b3d991"/>
<rect x="72.03" y="38.55" width="1.72" height="4.72" fill="#b3d991"/>
<rect x="74.38" y="38.55" width="1.72" height="4.72" fill="#b3d991"/>
<rect x="104.90" y="38.55" width="1.72" height="4.72" fill="#b3d991"/>
<rect x="107.25" y="38.55" width="1.72" height="4.72" fill="#b3d991"/>
<rect x="114.29" y="38.55" width="1.72" height="4.72" fill="#b3d991"/>
<rect x="116.64" y="38.55" width="1.72" height="4.72" fill="#b3d991"/>
<rect x="118.98" y="38.55" width="1.72" height="4.72" fill="#b3d991"/>
<rect x="121.33" y="38.55" width="1.72" height="4.72" fill="#b3d991"/>
<rect x="137.76" y="38.55" width="1.72" height="4.72" fill="#b3d991"/>
<rect x="156.54" y="38.55" width="1.72" height="4.72" fill="#b3d991"/>
<rect x="163.59" y="38.55" width="1.72" height="4.72" fill="#b3d991"/>
<rect x="163.59" y="40.56" width="1.72" height="0.70" fill="#fff"/>
<rect x="165.93" y="38.55" width="1.72" height="4.72" fill="#b3d991"/>
<rect x="175.32" y="38.55" width="1.72" height="4.72" fill="#b3d991"/>
<rect x="182.37" y="38.55" width="1.72" height="4.72" fill="#b3d991"/>
<rect x="184.71" y="38.55" width="1.72" height="4.72" fill="#b3d991"/>
<rect x="187.06" y="38.55" width="1.72" height="4.72" fill="#b3d991"/>
<rect x="205.84" y="38.55" width="1.72" height="4.72" fill="#b3d991"/>
<rect x="205.84" y="40.56" width="1.72" height="0.70" fill="#fff"/>
<rect x="241.05" y="38.55" width="1.72" height="4.72" fill="#b3d991"/>
<rect x="283.31" y="38.55" width="1.72" height="4.72" fill="#b3d991"/>
<rect x="285.66" y="38.55" width="1.72" height="4.72" fill="#b3d991"/>
<rect x="295.05" y="38.55" width="1.72" height="4.72" fill="#b3d991"/>
<rect x="304.44" y="38.55" width="1.72" height="4.72" fill="#b3d991"/>
<rect x="316.17" y="38.55" width="1.72" height="4.72" fill="#b3d991"/>
<rect x="349.04" y="38.55" width="1.72" height="4.72" fill="#b3d991"/>
<rect x="351.39" y="38.55" width="1.72" height="4.72" fill="#b3d991"/>
<rect x="370.17" y="38.55" width="1.72" height="4.72" fill="#b3d991"/>
<rect x="384.25" y="38.55" width="1.72" height="4.72" fill="#b3d991"/>
<rect x="388.95" y="38.55" width="1.72" height="4.72" fill="#b3d991"/>
<rect x="412.42" y="38.55" width="1.72" height="4.72" fill="#b3d991"/>
<rect x="412.42" y="40.56" width="1.72" height="0.70" fill="#fff"/>
<rect x="438.24" y="38.55" width="1.72" height="4.72" fill="#b3d991"/>
<rect x="440.59" y="38.55" width="1.72" height="4.72" fill="#b3d991"/>
<rect x="468.76" y="38.55" width="1.72" height="4.72" fill="#b3d991"/>
<rect x="471.11" y="38.55" width="1.72" height="4.72" fill="#b3d991"/>
<rect x="480.50" y="38.55" width="1.72" height="4.72" fill="#b3d991"/>
<rect x="480.50" y="40.56" width="1.72" height="0.70" fill="#fff"/>
<rect x="506.32" y="38.55" width="1.72" height="4.72" fill="#b3d991"/>
<rect x="76.73" y="44.04" width="1.72" height="4.72" fill="#b3d991"/>
<rect x="116.64" y="44.04" width="1.72" height="4.72" fill="#b3d991"/>
<rect x="163.59" y="44.04" width="1.72" height="4.72" fill="#b3d991"/>
<rect x="165.93" y="44.04" width="1.72" height="4.72" fill="#b3d991"/>
<rect x="172.97" y="44.04" width="1.72" height="4.72" fill="#b3d991"/>
<rect x="184.71" y="44.04" width="1.72" height="4.72" fill="#b3d991"/>
<rect x="189.41" y="44.04" width="1.72" height="4.72" fill="#b3d991"/>
<rect x="191.75" y="44.04" width="1.72" height="4.72" fill="#b3d991"/>
<rect x="191.75" y="46.05" width="1.72" height="0.70" fill="#fff"/>
<rect x="210.53" y="44.04" width="1.72" height="4.72" fill="#b3d991"/>
<rect x="224.62" y="44.04" width="1.72" height="4.72" fill="#b3d991"/>
<rect x="231.66" y="44.04" width="1.72" height="4.72" fill="#b3d991"/>
<rect x="243.40" y="44.04" width="1.72" height="4.72" fill="#b3d991"/>
<rect x="248.09" y="44.04" width="1.72" height="4.72" fill="#b3d991"/>
<rect x="288.00" y="44.04" width="1.72" height="4.72" fill="#b3d991"/>
<rect x="330.26" y="44.04" width="1.72" height="4.72" fill="#b3d991"/>
<rect x="332.61" y="44.04" width="1.72" height="4.72" fill="#b3d991"/>
<rect x="358.43" y="44.04" width="1.72" height="4.72" fill="#b3d991"/>
<rect x="372.51" y="44.04" width="1.72" height="4.72" fill="#b3d991"/>
<rect x="466.41" y="44.04" width="1.72" height="4.72" fill="#b3d991"/>
<rect x="487.54" y="44.04" width="1.72" height="4.72" fill="#b3d991"/>
<rect x="501.63" y="44.04" width="1.72" height="4.72" fill="#b3d991"/>
<rect x="503.97" y="44.04" width="1.72" height="4.72" fill="#b3d991"/>
<rect x="503.97" y="46.05" width="1.72" height="0.70" fill="#fff"/>
<rect x="111.94" y="49.53" width="1.72" height="4.72" fill="#b3d991"/>
<rect x="111.94" y="51.54" width="1.72" height="0.70" fill="#fff"/>
<rect x="114.29" y="49.53" width="1.72" height="4.72" fill="#b3d991"/>
<rect x="123.68" y="49.53" width="1.72" height="4.72" fill="#b3d991"/>
<rect x="126.03" y="49.53" width="1.72" height="4.72" fill="#b3d991"/>
<rect x="126.03" y="51.54" width="1.72" height="0.70" fill="#fff"/>
<rect x="128.37" y="49.53" width="1.72" height="4.72" fill="#b3d991"/>
<rect x="168.28" y="49.53" width="1.72" height="4.72" fill="#b3d991"/>
<rect x="177.67" y="49.53" width="1.72" height="4.72" fill="#b3d991"/>
<rect x="196.45" y="49.53" width="1.72" height="4.72" fill="#b3d991"/>
<rect x="257.49" y="49.53" width="1.72" height="4.72" fill="#b3d991"/>
<rect x="269.22" y="49.53" width="1.72" height="4.72" fill="#b3d991"/>
<rect x="273.92" y="49.53" width="1.72" height="4.72" fill="#b3d991"/>
<rect x="332.61" y="49.53" width="1.72" height="4.72" fill="#b3d991"/>
<rect x="334.95" y="49.53" width="1.72" height="4.72" fill="#b3d991"/>
<rect x="370.17" y="49.53" width="1.72" height="4.72" fill="#b3d991"/>
<rect x="377.21" y="49.53" width="1.72" height="4.72" fill="#b3d991"/>
<rect x="503.97" y="49.53" width="1.72" height="4.72" fill="#b3d991"/>
<rect x="137.76" y="55.02" width="1.72" height="4.72" fill="#b3d991"/>
<rect x="187.06" y="55.02" width="1.72" height="4.72" fill="#b3d991"/>
<rect x="205.84" y="55.02" width="1.72" height="4.72" fill="#b3d991"/>
<rect x="205.84" y="57.03" width="1.72" height="0.70" fill="#fff"/>
<rect x="262.18" y="55.02" width="1.72" height="4.72" fill="#b3d991"/>
<rect x="271.57" y="55.02" width="1.72" height="4.72" fill="#b3d991"/>
<rect x="316.17" y="55.02" width="1.72" height="4.72" fill="#b3d991"/>
<rect x="370.17" y="55.02" width="1.72" height="4.72" fill="#b3d991"/>
<rect x="503.97" y="55.02" width="1.72" height="4.72" fill="#b3d991"/>
<rect x="511.02" y="55.02" width="1.72" height="4.72" fill="#b3d991"/>
<rect x="168.28" y="60.51" width="1.72" height="4.72" fill="#b3d991"/>
<rect x="292.70" y="60.51" width="1.72" height="4.72" fill="#b3d991"/>
<rect x="297.39" y="60.51" width="1.72" height="4.72" fill="#b3d991"/>
<rect x="466.41" y="60.51" width="1.72" height="4.72" fill="#b3d991"/>
<rect x="480.50" y="60.51" width="1.72" height="4.72" fill="#b3d991"/>
<rect x="482.85" y="60.51" width="1.72" height="4.72" fill="#b3d991"/>
<rect x="283.31" y="66.00" width="1.72" height="4.72" fill="#b3d991"/>
<rect x="349.04" y="66.00" width="1.72" height="4.72" fill="#b3d991"/>
<rect x="351.39" y="66.00" width="1.72" height="4.72" fill="#b3d991"/>
<rect x="370.17" y="66.00" width="1.72" height="4.72" fill="#b3d991"/>
<rect x="391.29" y="66.00" width="1.72" height="4.72" fill="#b3d991"/>
<rect x="67.34" y="71.49" width="1.72" height="4.72" fill="#b3d991"/>
<rect x="330.26" y="76.98" width="1.72" height="4.72" fill="#b3d991"/>
<rect x="379.56" y="82.47" width="1.72" height="4.72" fill="#b3d991"/>
<rect x="62.64" y="87.96" width="1.72" height="4.72" fill="#6c349c"/>
<rect x="370.17" y="87.96" width="1.72" height="4.72" fill="#6c349c"/>
<rect x="400.68" y="87.96" width="1.72" height="4.72" fill="#6c349c"/>
<rect x="442.94" y="87.96" width="1.72" height="4.72" fill="#6c349c"/>
<rect x="447.63" y="87.96" width="1.72" height="4.72" fill="#6c349c"/>
<rect x="457.02" y="87.96" width="1.72" height="4.72" fill="#6c349c"/>
<rect x="499.28" y="87.96" width="1.72" height="4.72" fill="#6c349c"/>
<rect x="111.94" y="93.45" width="1.72" height="4.72" fill="#6c349c"/>
<rect x="196.45" y="93.45" width="1.72" height="4.72" fill="#6c349c"/>
<rect x="252.79" y="93.45" width="1.72" height="4.72" fill="#6c349c"/>
<rect x="290.35" y="93.45" width="1.72" height="4.72" fill="#6c349c"/>
<rect x="295.05" y="93.45" width="1.72" height="4.72" fill="#6c349c"/>
<rect x="297.39" y="93.45" width="1.72" height="4.72" fill="#6c349c"/>
<rect x="309.13" y="93.45" width="1.72" height="4.72" fill="#6c349c"/>
<rect x="334.95" y="93.45" width="1.72" height="4.72" fill="#6c349c"/>
<rect x="342.00" y="93.45" width="1.72" height="4.72" fill="#6c349c"/>
<rect x="351.39" y="93.45" width="1.72" height="4.72" fill="#6c349c"/>
<rect x="377.21" y="93.45" width="1.72" height="4.72" fill="#6c349c"/>
<rect x="391.29" y="93.45" width="1.72" height="4.72" fill="#6c349c"/>
<rect x="478.15" y="93.45" width="1.72" height="4.72" fill="#6c349c"/>
<rect x="511.02" y="93.45" width="1.72" height="4.72" fill="#6c349c"/>
<rect x="74.38" y="98.94" width="1.72" height="4.72" fill="#6c349c"/>
<rect x="168.28" y="98.94" width="1.72" height="4.72" fill="#6c349c"/>
<rect x="435.90" y="98.94" width="1.72" height="4.72" fill="#6c349c"/>
<rect x="170.63" y="104.43" width="1.72" height="4.72" fill="#6c349c"/>
<rect x="344.34" y="104.43" width="1.72" height="4.72" fill="#6c349c"/>
<rect x="379.56" y="104.43" width="1.72" height="4.72" fill="#6c349c"/>
<rect x="400.68" y="104.43" width="1.72" height="4.72" fill="#6c349c"/>
<rect x="435.90" y="104.43" width="1.72" height="4.72" fill="#6c349c"/>
<rect x="473.46" y="104.43" width="1.72" height="4.72" fill="#6c349c"/>
<rect x="55.60" y="109.92" width="1.72" height="4.72" fill="#fdbd10"/>
<rect x="57.95" y="109.92" width="1.72" height="4.72" fill="#fdbd10"/>
<rect x="60.30" y="109.92" width="1.72" height="4.72" fill="#fdbd10"/>
<rect x="118.98" y="109.92" width="1.72" height="4.72" fill="#fdbd10"/>
<rect x="156.54" y="109.92" width="1.72" height="4.72" fill="#fdbd10"/>
<rect x="156.54" y="111.93" width="1.72" height="0.70" fill="#fff"/>
<rect x="165.93" y="109.92" width="1.72" height="4.72" fill="#fdbd10"/>
<rect x="172.97" y="109.92" width="1.72" height="4.72" fill="#fdbd10"/>
<rect x="285.66" y="109.92" width="1.72" height="4.72" fill="#fdbd10"/>
<rect x="292.70" y="109.92" width="1.72" height="4.72" fill="#fdbd10"/>
<rect x="360.78" y="109.92" width="1.72" height="4.72" fill="#fdbd10"/>
<rect x="468.76" y="109.92" width="1.72" height="4.72" fill="#fdbd10"/>
<rect x="475.80" y="109.92" width="1.72" height="4.72" fill="#fdbd10"/>
<rect x="55.60" y="115.41" width="1.72" height="4.72" fill="#fdbd10"/>
<rect x="55.60" y="117.42" width="1.72" height="0.70" fill="#fff"/>
<rect x="57.95" y="115.41" width="1.72" height="4.72" fill="#fdbd10"/>
<rect x="130.72" y="115.41" width="1.72" height="4.72" fill="#fdbd10"/>
<rect x="161.24" y="115.41" width="1.72" height="4.72" fill="#fdbd10"/>
<rect x="271.57" y="115.41" width="1.72" height="4.72" fill="#fdbd10"/>
<rect x="304.44" y="115.41" width="1.72" height="4.72" fill="#fdbd10"/>
<rect x="325.56" y="115.41" width="1.72" height="4.72" fill="#fdbd10"/>
<rect x="480.50" y="115.41" width="1.72" height="4.72" fill="#fdbd10"/>
<rect x="79.08" y="120.90" width="1.72" height="4.72" fill="#fdbd10"/>
<rect x="81.42" y="120.90" width="1.72" height="4.72" fill="#fdbd10"/>
<rect x="109.59" y="120.90" width="1.72" height="4.72" fill="#fdbd10"/>
<rect x="191.75" y="120.90" width="1.72" height="4.72" fill="#fdbd10"/>
<rect x="234.01" y="120.90" width="1.72" height="4.72" fill="#fdbd10"/>
<rect x="292.70" y="120.90" width="1.72" height="4.72" fill="#fdbd10"/>
<rect x="309.13" y="120.90" width="1.72" height="4.72" fill="#fdbd10"/>
<rect x="379.56" y="120.90" width="1.72" height="4.72" fill="#fdbd10"/>
<rect x="511.02" y="120.90" width="1.72" height="4.72" fill="#fdbd10"/>
<rect x="64.99" y="126.39" width="1.72" height="4.72" fill="#fdbd10"/>
<rect x="360.78" y="126.39" width="1.72" height="4.72" fill="#fdbd10"/>
<rect x="168.28" y="131.88" width="1.72" height="4.72" fill="#fdbd10"/>
<rect x="337.30" y="131.88" width="1.72" height="4.72" fill="#fdbd10"/>
<rect x="377.21" y="131.88" width="1.72" height="4.72" fill="#fdbd10"/>
<rect x="381.90" y="131.88" width="1.72" height="4.72" fill="#fdbd10"/>
<rect x="327.91" y="137.37" width="1.72" height="4.72" fill="#fdbd10"/>
<rect x="349.04" y="142.86" width="1.72" height="4.72" fill="#fdbd10"/>
<rect x="349.04" y="144.87" width="1.72" height="0.70" fill="#fff"/>
<rect x="503.97" y="148.35" width="1.72" height="4.72" fill="#fdbd10"/>
<rect x="435.90" y="153.84" width="1.72" height="4.72" fill="#cf46a0"/>
<rect x="62.64" y="159.33" width="1.72" height="4.72" fill="#cf46a0"/>
<rect x="79.08" y="159.33" width="1.72" height="4.72" fill="#cf46a0"/>
<rect x="180.02" y="159.33" width="1.72" height="4.72" fill="#cf46a0"/>
<rect x="236.36" y="159.33" width="1.72" height="4.72" fill="#cf46a0"/>
<rect x="276.27" y="159.33" width="1.72" height="4.72" fill="#cf46a0"/>
<rect x="349.04" y="159.33" width="1.72" height="4.72" fill="#cf46a0"/>
<rect x="370.17" y="159.33" width="1.72" height="4.72" fill="#cf46a0"/>
<rect x="372.51" y="159.33" width="1.72" height="4.72" fill="#cf46a0"/>
<rect x="374.86" y="159.33" width="1.72" height="4.72" fill="#cf46a0"/>
<rect x="431.20" y="159.33" width="1.72" height="4.72" fill="#cf46a0"/>
<rect x="433.55" y="159.33" width="1.72" height="4.72" fill="#cf46a0"/>
<rect x="438.24" y="159.33" width="1.72" height="4.72" fill="#cf46a0"/>
<rect x="440.59" y="159.33" width="1.72" height="4.72" fill="#cf46a0"/>
<rect x="442.94" y="159.33" width="1.72" height="4.72" fill="#cf46a0"/>
<rect x="445.29" y="159.33" width="1.72" height="4.72" fill="#cf46a0"/>
<rect x="447.63" y="159.33" width="1.72" height="4.72" fill="#cf46a0"/>
<rect x="114.29" y="164.82" width="1.72" height="4.72" fill="#cf46a0"/>
<rect x="177.67" y="164.82" width="1.72" height="4.72" fill="#cf46a0"/>
<rect x="372.51" y="164.82" width="1.72" height="4.72" fill="#cf46a0"/>
<rect x="374.86" y="164.82" width="1.72" height="4.72" fill="#cf46a0"/>
<rect x="412.42" y="164.82" width="1.72" height="4.72" fill="#cf46a0"/>
<rect x="475.80" y="164.82" width="1.72" height="4.72" fill="#cf46a0"/>
<rect x="81.42" y="170.31" width="1.72" height="4.72" fill="#cf46a0"/>
<rect x="445.29" y="170.31" width="1.72" height="4.72" fill="#cf46a0"/>
<rect x="482.85" y="170.31" width="1.72" height="4.72" fill="#cf46a0"/>
<rect x="104.90" y="175.80" width="1.72" height="4.72" fill="#cf46a0"/>
<rect x="295.05" y="175.80" width="1.72" height="4.72" fill="#cf46a0"/>
<rect x="342.00" y="175.80" width="1.72" height="4.72" fill="#cf46a0"/>
<rect x="344.34" y="175.80" width="1.72" height="4.72" fill="#cf46a0"/>
<rect x="346.69" y="175.80" width="1.72" height="4.72" fill="#cf46a0"/>
<rect x="388.95" y="175.80" width="1.72" height="4.72" fill="#cf46a0"/>
<rect x="403.03" y="175.80" width="1.72" height="4.72" fill="#cf46a0"/>
<rect x="234.01" y="181.29" width="1.72" height="4.72" fill="#cf46a0"/>
<rect x="358.43" y="181.29" width="1.72" height="4.72" fill="#cf46a0"/>
<rect x="386.60" y="181.29" width="1.72" height="4.72" fill="#cf46a0"/>
<rect x="386.60" y="183.30" width="1.72" height="0.70" fill="#fff"/>
<rect x="428.85" y="181.29" width="1.72" height="4.72" fill="#cf46a0"/>
<rect x="499.28" y="181.29" width="1.72" height="4.72" fill="#cf46a0"/>
<rect x="384.25" y="186.78" width="1.72" height="4.72" fill="#cf46a0"/>
<rect x="410.07" y="186.78" width="1.72" height="4.72" fill="#cf46a0"/>
<rect x="473.46" y="186.78" width="1.72" height="4.72" fill="#cf46a0"/>
<rect x="363.12" y="192.27" width="1.72" height="4.72" fill="#cf46a0"/>
<rect x="367.82" y="192.27" width="1.72" height="4.72" fill="#cf46a0"/>
<rect x="377.21" y="192.27" width="1.72" height="4.72" fill="#cf46a0"/>
<rect x="421.81" y="192.27" width="1.72" height="4.72" fill="#cf46a0"/>
<rect x="365.47" y="197.76" width="1.72" height="4.72" fill="#cf46a0"/>
<rect x="365.47" y="199.77" width="1.72" height="0.70" fill="#fff"/>
<rect x="388.95" y="197.76" width="1.72" height="4.72" fill="#cf46a0"/>
<rect x="386.60" y="203.25" width="1.72" height="4.72" fill="#cf46a0"/>
<rect x="386.60" y="205.26" width="1.72" height="0.70" fill="#fff"/>
<rect x="407.73" y="208.74" width="1.72" height="4.72" fill="#cf46a0"/>
<rect x="327.91" y="214.23" width="1.72" height="4.72" fill="#cf46a0"/>
<rect x="330.26" y="214.23" width="1.72" height="4.72" fill="#cf46a0"/>
<rect x="332.61" y="214.23" width="1.72" height="4.72" fill="#cf46a0"/>
<rect x="344.34" y="219.72" width="1.72" height="4.72" fill="#cf46a0"/>
<rect x="346.69" y="219.72" width="1.72" height="4.72" fill="#cf46a0"/>
<rect x="290.35" y="225.21" width="1.72" height="4.72" fill="#6cc5ee"/>
<rect x="351.39" y="225.21" width="1.72" height="4.72" fill="#6cc5ee"/>
<rect x="351.39" y="227.22" width="1.72" height="0.70" fill="#fff"/>
<rect x="388.95" y="225.21" width="1.72" height="4.72" fill="#6cc5ee"/>
<rect x="480.50" y="225.21" width="1.72" height="4.72" fill="#6cc5ee"/>
<rect x="304.44" y="230.70" width="1.72" height="4.72" fill="#6cc5ee"/>
<rect x="379.56" y="230.70" width="1.72" height="4.72" fill="#6cc5ee"/>
<rect x="421.81" y="236.19" width="1.72" height="4.72" fill="#6cc5ee"/>
<rect x="76.73" y="241.68" width="1.72" height="4.72" fill="#527fc2"/>
<rect x="137.76" y="241.68" width="1.72" height="4.72" fill="#527fc2"/>
<rect x="175.32" y="241.68" width="1.72" height="4.72" fill="#527fc2"/>
<rect x="175.32" y="243.69" width="1.72" height="0.70" fill="#fff"/>
<rect x="205.84" y="241.68" width="1.72" height="4.72" fill="#527fc2"/>
<rect x="205.84" y="243.69" width="1.72" height="0.70" fill="#fff"/>
<rect x="316.17" y="241.68" width="1.72" height="4.72" fill="#527fc2"/>
<rect x="480.50" y="241.68" width="1.72" height="4.72" fill="#527fc2"/>
<rect x="480.50" y="243.69" width="1.72" height="0.70" fill="#fff"/>
<rect x="503.97" y="241.68" width="1.72" height="4.72" fill="#527fc2"/>
<rect x="503.97" y="243.69" width="1.72" height="0.70" fill="#fff"/>
<rect x="299.74" y="247.17" width="1.72" height="4.72" fill="#527fc2"/>
<rect x="403.03" y="252.66" width="1.72" height="4.72" fill="#527fc2"/>
<rect x="168.28" y="258.15" width="1.72" height="4.72" fill="#222"/>
<rect x="327.91" y="258.15" width="1.72" height="4.72" fill="#222"/>
<rect x="330.26" y="258.15" width="1.72" height="4.72" fill="#222"/>
<rect x="332.61" y="258.15" width="1.72" height="4.72" fill="#222"/>
<rect x="334.95" y="258.15" width="1.72" height="4.72" fill="#222"/>
<rect x="337.30" y="258.15" width="1.72" height="4.72" fill="#222"/>
<rect x="339.65" y="258.15" width="1.72" height="4.72" fill="#222"/>
<rect x="342.00" y="258.15" width="1.72" height="4.72" fill="#222"/>
<rect x="381.90" y="258.15" width="1.72" height="4.72" fill="#222"/>
<rect x="64.99" y="263.64" width="1.72" height="4.72" fill="#5fba3f"/>
<rect x="64.99" y="265.65" width="1.72" height="0.70" fill="#fff"/>
<rect x="67.34" y="263.64" width="1.72" height="4.72" fill="#5fba3f"/>
<rect x="109.59" y="263.64" width="1.72" height="4.72" fill="#5fba3f"/>
<rect x="111.94" y="263.64" width="1.72" height="4.72" fill="#5fba3f"/>
<rect x="121.33" y="263.64" width="1.72" height="4.72" fill="#5fba3f"/>
<rect x="191.75" y="263.64" width="1.72" height="4.72" fill="#5fba3f"/>
<rect x="283.31" y="263.64" width="1.72" height="4.72" fill="#5fba3f"/>
<rect x="283.31" y="265.65" width="1.72" height="0.70" fill="#fff"/>
<rect x="306.78" y="263.64" width="1.72" height="4.72" fill="#5fba3f"/>
<rect x="309.13" y="263.64" width="1.72" height="4.72" fill="#5fba3f"/>
<rect x="344.34" y="263.64" width="1.72" height="4.72" fill="#5fba3f"/>
<rect x="344.34" y="265.65" width="1.72" height="0.70" fill="#fff"/>
<rect x="356.08" y="263.64" width="1.72" height="4.72" fill="#5fba3f"/>
<rect x="358.43" y="263.64" width="1.72" height="4.72" fill="#5fba3f"/>
<rect x="393.64" y="263.64" width="1.72" height="4.72" fill="#5fba3f"/>
<rect x="393.64" y="265.65" width="1.72" height="0.70" fill="#fff"/>
<rect x="395.99" y="263.64" width="1.72" height="4.72" fill="#5fba3f"/>
<rect x="407.73" y="263.64" width="1.72" height="4.72" fill="#5fba3f"/>
<rect x="421.81" y="263.64" width="1.72" height="4.72" fill="#5fba3f"/>
<rect x="421.81" y="265.65" width="1.72" height="0.70" fill="#fff"/>
<rect x="445.29" y="263.64" width="1.72" height="4.72" fill="#5fba3f"/>
<rect x="445.29" y="265.65" width="1.72" height="0.70" fill="#fff"/>
<rect x="466.41" y="263.64" width="1.72" height="4.72" fill="#5fba3f"/>
<rect x="508.67" y="263.64" width="1.72" height="4.72" fill="#5fba3f"/>
<rect x="508.67" y="265.65" width="1.72" height="0.70" fill="#fff"/>
<rect x="55.60" y="268.93" width="1.72" height="5.10" fill="#8dd5f7"/>
<rect x="57.95" y="268.93" width="1.72" height="5.10" fill="#f3f1f1"/>
<rect x="60.30" y="268.93" width="1.72" height="5.10" fill="#f3f1f1"/>
<rect x="62.64" y="268.93" width="1.72" height="5.10" fill="#1f6e8c"/>
<rect x="64.99" y="268.93" width="1.72" height="5.10" fill="#f3f1f1"/>
<rect x="67.34" y="268.93" width="1.72" height="5.10" fill="#111111"/>
<rect x="69.69" y="268.93" width="1.72" height="5.10" fill="#8dd5f7"/>
<rect x="72.03" y="268.93" width="1.72" height="5.10" fill="#8dd5f7"/>
<rect x="74.38" y="268.93" width="1.72" height="5.10" fill="#8dd5f7"/>
<rect x="76.73" y="268.93" width="1.72" height="5.10" fill="#8dd5f7"/>
<rect x="79.08" y="268.93" width="1.72" height="5.10" fill="#8dd5f7"/>
<rect x="81.42" y="268.93" width="1.72" height="5.10" fill="#8dd5f7"/>
<rect x="83.77" y="268.93" width="1.72" height="5.10" fill="#8dd5f7"/>
<rect x="86.12" y="268.93" width="1.72" height="5.10" fill="#1f6e8c"/>
<rect x="88.47" y="268.93" width="1.72" height="5.10" fill="#8dd5f7"/>
<rect x="90.81" y="268.93" width="1.72" height="5.10" fill="#f3f1f1"/>
<rect x="93.16" y="268.93" width="1.72" height="5.10" fill="#8dd5f7"/>
<rect x="95.51" y="268.93" width="1.72" height="5.10" fill="#8dd5f7"/>
<rect x="97.86" y="268.93" width="1.72" height="5.10" fill="#8dd5f7"/>
<rect x="100.20" y="268.93" width="1.72" height="5.10" fill="#1f6e8c"/>
<rect x="102.55" y="268.93" width="1.72" height="5.10" fill="#8dd5f7"/>
<rect x="104.90" y="268.93" width="1.72" height="5.10" fill="#8dd5f7"/>
<rect x="107.25" y="268.93" width="1.72" height="5.10" fill="#1f6e8c"/>
<rect x="109.59" y="268.93" width="1.72" height="5.10" fill="#111111"/>
<rect x="111.94" y="268.93" width="1.72" height="5.10" fill="#8dd5f7"/>
<rect x="114.29" y="268.93" width="1.72" height="5.10" fill="#8dd5f7"/>
<rect x="116.64" y="268.93" width="1.72" height="5.10" fill="#8dd5f7"/>
<rect x="118.98" y="268.93" width="1.72" height="5.10" fill="#8dd5f7"/>
<rect x="121.33" y="268.93" width="1.72" height="5.10" fill="#1f6e8c"/>
<rect x="123.68" y="268.93" width="1.72" height="5.10" fill="#8dd5f7"/>
<rect x="126.03" y="268.93" width="1.72" height="5.10" fill="#f3f1f1"/>
<rect x="128.37" y="268.93" width="1.72" height="5.10" fill="#f3f1f1"/>
<rect x="130.72" y="268.93" width="1.72" height="5.10" fill="#f3f1f1"/>
<rect x="133.07" y="268.93" width="1.72" height="5.10" fill="#8dd5f7"/>
<rect x="135.41" y="268.93" width="1.72" height="5.10" fill="#8dd5f7"/>
<rect x="137.76" y="268.93" width="1.72" height="5.10" fill="#f3f1f1"/>
<rect x="140.11" y="268.93" width="1.72" height="5.10" fill="#f3f1f1"/>
<rect x="142.46" y="268.93" width="1.72" height="5.10" fill="#111111"/>
<rect x="144.81" y="268.93" width="1.72" height="5.10" fill="#8dd5f7"/>
<rect x="147.15" y="268.93" width="1.72" height="5.10" fill="#8dd5f7"/>
<rect x="149.50" y="268.93" width="1.72" height="5.10" fill="#f3f1f1"/>
<rect x="151.85" y="268.93" width="1.72" height="5.10" fill="#8dd5f7"/>
<rect x="154.19" y="268.93" width="1.72" height="5.10" fill="#8dd5f7"/>
<rect x="156.54" y="268.93" width="1.72" height="5.10" fill="#f3f1f1"/>
<rect x="158.89" y="268.93" width="1.72" height="5.10" fill="#f3f1f1"/>
<rect x="161.24" y="268.93" width="1.72" height="5.10" fill="#8dd5f7"/>
<rect x="163.59" y="268.93" width="1.72" height="5.10" fill="#8dd5f7"/>
<rect x="165.93" y="268.93" width="1.72" height="5.10" fill="#f3f1f1"/>
<rect x="168.28" y="268.93" width="1.72" height="5.10" fill="#f3f1f1"/>
<rect x="170.63" y="268.93" width="1.72" height="5.10" fill="#8dd5f7"/>
<rect x="172.97" y="268.93" width="1.72" height="5.10" fill="#f3f1f1"/>
<rect x="175.32" y="268.93" width="1.72" height="5.10" fill="#8dd5f7"/>
<rect x="177.67" y="268.93" width="1.72" height="5.10" fill="#f3f1f1"/>
<rect x="180.02" y="268.93" width="1.72" height="5.10" fill="#8dd5f7"/>
<rect x="182.37" y="268.93" width="1.72" height="5.10" fill="#1f6e8c"/>
<rect x="184.71" y="268.93" width="1.72" height="5.10" fill="#8dd5f7"/>
<rect x="187.06" y="268.93" width="1.72" height="5.10" fill="#1f6e8c"/>
<rect x="189.41" y="268.93" width="1.72" height="5.10" fill="#f3f1f1"/>
<rect x="191.75" y="268.93" width="1.72" height="5.10" fill="#f3f1f1"/>
<rect x="194.10" y="268.93" width="1.72" height="5.10" fill="#8dd5f7"/>
<rect x="196.45" y="268.93" width="1.72" height="5.10" fill="#f3f1f1"/>
<rect x="198.80" y="268.93" width="1.72" height="5.10" fill="#8dd5f7"/>
<rect x="201.15" y="268.93" width="1.72" height="5.10" fill="#8dd5f7"/>
<rect x="203.49" y="268.93" width="1.72" height="5.10" fill="#f3f1f1"/>
<rect x="205.84" y="268.93" width="1.72" height="5.10" fill="#f3f1f1"/>
<rect x="208.19" y="268.93" width="1.72" height="5.10" fill="#f3f1f1"/>
<rect x="210.53" y="268.93" width="1.72" height="5.10" fill="#f3f1f1"/>
<rect x="212.88" y="268.93" width="1.72" height="5.10" fill="#8dd5f7"/>
<rect x="215.23" y="268.93" width="1.72" height="5.10" fill="#8dd5f7"/>
<rect x="217.58" y="268.93" width="1.72" height="5.10" fill="#8dd5f7"/>
<rect x="219.93" y="268.93" width="1.72" height="5.10" fill="#8dd5f7"/>
<rect x="222.27" y="268.93" width="1.72" height="5.10" fill="#8dd5f7"/>
<rect x="224.62" y="268.93" width="1.72" height="5.10" fill="#8dd5f7"/>
<rect x="226.97" y="268.93" width="1.72" height="5.10" fill="#8dd5f7"/>
<rect x="229.31" y="268.93" width="1.72" height="5.10" fill="#8dd5f7"/>
<rect x="231.66" y="268.93" width="1.72" height="5.10" fill="#8dd5f7"/>
<rect x="234.01" y="268.93" width="1.72" height="5.10" fill="#111111"/>
<rect x="236.36" y="268.93" width="1.72" height="5.10" fill="#8dd5f7"/>
<rect x="238.71" y="268.93" width="1.72" height="5.10" fill="#1f6e8c"/>
<rect x="241.05" y="268.93" width="1.72" height="5.10" fill="#f3f1f1"/>
<rect x="243.40" y="268.93" width="1.72" height="5.10" fill="#8dd5f7"/>
<rect x="245.75" y="268.93" width="1.72" height="5.10" fill="#8dd5f7"/>
<rect x="248.09" y="268.93" width="1.72" height="5.10" fill="#8dd5f7"/>
<rect x="250.44" y="268.93" width="1.72" height="5.10" fill="#f3f1f1"/>
<rect x="252.79" y="268.93" width="1.72" height="5.10" fill="#f3f1f1"/>
<rect x="255.14" y="268.93" width="1.72" height="5.10" fill="#f3f1f1"/>
<rect x="257.49" y="268.93" width="1.72" height="5.10" fill="#8dd5f7"/>
<rect x="259.83" y="268.93" width="1.72" height="5.10" fill="#8dd5f7"/>
<rect x="262.18" y="268.93" width="1.72" height="5.10" fill="#f3f1f1"/>
<rect x="264.53" y="268.93" width="1.72" height="5.10" fill="#f3f1f1"/>
<rect x="266.88" y="268.93" width="1.72" height="5.10" fill="#1f6e8c"/>
<rect x="269.22" y="268.93" width="1.72" height="5.10" fill="#8dd5f7"/>
<rect x="271.57" y="268.93" width="1.72" height="5.10" fill="#8dd5f7"/>
<rect x="273.92" y="268.93" width="1.72" height="5.10" fill="#f3f1f1"/>
<rect x="276.27" y="268.93" width="1.72" height="5.10" fill="#f3f1f1"/>
<rect x="278.61" y="268.93" width="1.72" height="5.10" fill="#f3f1f1"/>
<rect x="280.96" y="268.93" width="1.72" height="5.10" fill="#1f6e8c"/>
<rect x="283.31" y="268.93" width="1.72" height="5.10" fill="#f3f1f1"/>
<rect x="285.66" y="268.93" width="1.72" height="5.10" fill="#8dd5f7"/>
<rect x="288.00" y="268.93" width="1.72" height="5.10" fill="#8dd5f7"/>
<rect x="290.35" y="268.93" width="1.72" height="5.10" fill="#f3f1f1"/>
<rect x="292.70" y="268.93" width="1.72" height="5.10" fill="#f3f1f1"/>
<rect x="295.05" y="268.93" width="1.72" height="5.10" fill="#f3f1f1"/>
<rect x="297.39" y="268.93" width="1.72" height="5.10" fill="#f3f1f1"/>
<rect x="299.74" y="268.93" width="1.72" height="5.10" fill="#8dd5f7"/>
<rect x="302.09" y="268.93" width="1.72" height="5.10" fill="#f3f1f1"/>
<rect x="304.44" y="268.93" width="1.72" height="5.10" fill="#f3f1f1"/>
<rect x="306.78" y="268.93" width="1.72" height="5.10" fill="#8dd5f7"/>
<rect x="309.13" y="268.93" width="1.72" height="5.10" fill="#f3f1f1"/>
<rect x="311.48" y="268.93" width="1.72" height="5.10" fill="#f3f1f1"/>
<rect x="313.83" y="268.93" width="1.72" height="5.10" fill="#f3f1f1"/>
<rect x="316.17" y="268.93" width="1.72" height="5.10" fill="#1f6e8c"/>
<rect x="318.52" y="268.93" width="1.72" height="5.10" fill="#8dd5f7"/>
<rect x="320.87" y="268.93" width="1.72" height="5.10" fill="#8dd5f7"/>
<rect x="323.22" y="268.93" width="1.72" height="5.10" fill="#8dd5f7"/>
<rect x="325.56" y="268.93" width="1.72" height="5.10" fill="#8dd5f7"/>
<rect x="327.91" y="268.93" width="1.72" height="5.10" fill="#f3f1f1"/>
<rect x="330.26" y="268.93" width="1.72" height="5.10" fill="#f3f1f1"/>
<rect x="332.61" y="268.93" width="1.72" height="5.10" fill="#f3f1f1"/>
<rect x="334.95" y="268.93" width="1.72" height="5.10" fill="#8dd5f7"/>
<rect x="337.30" y="268.93" width="1.72" height="5.10" fill="#8dd5f7"/>
<rect x="339.65" y="268.93" width="1.72" height="5.10" fill="#8dd5f7"/>
<rect x="342.00" y="268.93" width="1.72" height="5.10" fill="#8dd5f7"/>
<rect x="344.34" y="268.93" width="1.72" height="5.10" fill="#111111"/>
<rect x="346.69" y="268.93" width="1.72" height="5.10" fill="#8dd5f7"/>
<rect x="349.04" y="268.93" width="1.72" height="5.10" fill="#8dd5f7"/>
<rect x="351.39" y="268.93" width="1.72" height="5.10" fill="#8dd5f7"/>
<rect x="353.73" y="268.93" width="1.72" height="5.10" fill="#1f6e8c"/>
<rect x="356.08" y="268.93" width="1.72" height="5.10" fill="#111111"/>
<rect x="358.43" y="268.93" width="1.72" height="5.10" fill="#f3f1f1"/>
<rect x="360.78" y="268.93" width="1.72" height="5.10" fill="#8dd5f7"/>
<rect x="363.12" y="268.93" width="1.72" height="5.10" fill="#e2202a"/>
<rect x="365.47" y="268.93" width="1.72" height="5.10" fill="#f3f1f1"/>
<rect x="367.82" y="268.93" width="1.72" height="5.10" fill="#e2202a"/>
<rect x="370.17" y="268.93" width="1.72" height="5.10" fill="#f3f1f1"/>
<rect x="372.51" y="268.93" width="1.72" height="5.10" fill="#f3f1f1"/>
<rect x="374.86" y="268.93" width="1.72" height="5.10" fill="#1f6e8c"/>
<rect x="377.21" y="268.93" width="1.72" height="5.10" fill="#f3f1f1"/>
<rect x="379.56" y="268.93" width="1.72" height="5.10" fill="#f3f1f1"/>
<rect x="381.90" y="268.93" width="1.72" height="5.10" fill="#8dd5f7"/>
<rect x="384.25" y="268.93" width="1.72" height="5.10" fill="#f3f1f1"/>
<rect x="386.60" y="268.93" width="1.72" height="5.10" fill="#f3f1f1"/>
<rect x="388.95" y="268.93" width="1.72" height="5.10" fill="#1f6e8c"/>
<rect x="391.29" y="268.93" width="1.72" height="5.10" fill="#f3f1f1"/>
<rect x="393.64" y="268.93" width="1.72" height="5.10" fill="#f3f1f1"/>
<rect x="395.99" y="268.93" width="1.72" height="5.10" fill="#111111"/>
<rect x="398.34" y="268.93" width="1.72" height="5.10" fill="#f3f1f1"/>
<rect x="400.68" y="268.93" width="1.72" height="5.10" fill="#1f6e8c"/>
<rect x="403.03" y="268.93" width="1.72" height="5.10" fill="#f3f1f1"/>
<rect x="405.38" y="268.93" width="1.72" height="5.10" fill="#8dd5f7"/>
<rect x="407.73" y="268.93" width="1.72" height="5.10" fill="#f3f1f1"/>
<rect x="410.07" y="268.93" width="1.72" height="5.10" fill="#f3f1f1"/>
<rect x="412.42" y="268.93" width="1.72" height="5.10" fill="#f3f1f1"/>
<rect x="414.77" y="268.93" width="1.72" height="5.10" fill="#8dd5f7"/>
<rect x="417.12" y="268.93" width="1.72" height="5.10" fill="#f3f1f1"/>
<rect x="419.46" y="268.93" width="1.72" height="5.10" fill="#f3f1f1"/>
<rect x="421.81" y="268.93" width="1.72" height="5.10" fill="#f3f1f1"/>
<rect x="424.16" y="268.93" width="1.72" height="5.10" fill="#f3f1f1"/>
<rect x="426.51" y="268.93" width="1.72" height="5.10" fill="#8dd5f7"/>
<rect x="428.85" y="268.93" width="1.72" height="5.10" fill="#f3f1f1"/>
<rect x="431.20" y="268.93" width="1.72" height="5.10" fill="#8dd5f7"/>
<rect x="433.55" y="268.93" width="1.72" height="5.10" fill="#8dd5f7"/>
<rect x="435.90" y="268.93" width="1.72" height="5.10" fill="#f3f1f1"/>
<rect x="438.24" y="268.93" width="1.72" height="5.10" fill="#f3f1f1"/>
<rect x="440.59" y="268.93" width="1.72" height="5.10" fill="#f3f1f1"/>
<rect x="442.94" y="268.93" width="1.72" height="5.10" fill="#8dd5f7"/>
<rect x="445.29" y="268.93" width="1.72" height="5.10" fill="#8dd5f7"/>
<rect x="447.63" y="268.93" width="1.72" height="5.10" fill="#f3f1f1"/>
<rect x="449.98" y="268.93" width="1.72" height="5.10" fill="#f3f1f1"/>
<rect x="452.33" y="268.93" width="1.72" height="5.10" fill="#8dd5f7"/>
<rect x="454.68" y="268.93" width="1.72" height="5.10" fill="#f3f1f1"/>
<rect x="457.02" y="268.93" width="1.72" height="5.10" fill="#8dd5f7"/>
<rect x="459.37" y="268.93" width="1.72" height="5.10" fill="#8dd5f7"/>
<rect x="461.72" y="268.93" width="1.72" height="5.10" fill="#8dd5f7"/>
<rect x="464.07" y="268.93" width="1.72" height="5.10" fill="#1f6e8c"/>
<rect x="466.41" y="268.93" width="1.72" height="5.10" fill="#111111"/>
<rect x="468.76" y="268.93" width="1.72" height="5.10" fill="#8dd5f7"/>
<rect x="471.11" y="268.93" width="1.72" height="5.10" fill="#8dd5f7"/>
<rect x="473.46" y="268.93" width="1.72" height="5.10" fill="#8dd5f7"/>
<rect x="475.80" y="268.93" width="1.72" height="5.10" fill="#1f6e8c"/>
<rect x="478.15" y="268.93" width="1.72" height="5.10" fill="#1f6e8c"/>
<rect x="480.50" y="268.93" width="1.72" height="5.10" fill="#f3f1f1"/>
<rect x="482.85" y="268.93" width="1.72" height="5.10" fill="#8dd5f7"/>
<rect x="485.19" y="268.93" width="1.72" height="5.10" fill="#8dd5f7"/>
<rect x="487.54" y="268.93" width="1.72" height="5.10" fill="#8dd5f7"/>
<rect x="489.89" y="268.93" width="1.72" height="5.10" fill="#1f6e8c"/>
<rect x="492.24" y="268.93" width="1.72" height="5.10" fill="#8dd5f7"/>
<rect x="494.58" y="268.93" width="1.72" height="5.10" fill="#8dd5f7"/>
<rect x="496.93" y="268.93" width="1.72" height="5.10" fill="#f3f1f1"/>
<rect x="499.28" y="268.93" width="1.72" height="5.10" fill="#f3f1f1"/>
<rect x="501.63" y="268.93" width="1.72" height="5.10" fill="#8dd5f7"/>
<rect x="503.97" y="268.93" width="1.72" height="5.10" fill="#1f6e8c"/>
<rect x="506.32" y="268.93" width="1.72" height="5.10" fill="#1f6e8c"/>
<rect x="508.67" y="268.93" width="1.72" height="5.10" fill="#1f6e8c"/>
<rect x="511.02" y="268.93" width="1.72" height="5.10" fill="#1f6e8c"/>
<rect x="210.05" y="26.60" width="0.90" height="247.62" fill="#8a8a8a"/>
<rect x="275.35" y="26.60" width="0.90" height="247.62" fill="#8a8a8a"/>
<rect x="317.45" y="26.60" width="0.90" height="247.62" fill="#8a8a8a"/>
<rect x="369.35" y="26.60" width="0.90" height="247.62" fill="#8a8a8a"/>
<rect x="398.25" y="26.60" width="0.90" height="247.62" fill="#8a8a8a"/>
<rect x="430.15" y="26.60" width="0.90" height="247.62" fill="#8a8a8a"/>
<rect x="456.45" y="26.60" width="0.90" height="247.62" fill="#8a8a8a"/>
<rect x="467.75" y="26.60" width="0.90" height="247.62" fill="#8a8a8a"/>
<rect x="498.75" y="26.60" width="0.90" height="247.62" fill="#8a8a8a"/>
<rect x="327.10" y="26.60" width="1.00" height="247.62" fill="#707070"/>
<rect x="55.00" y="20.30" width="0.70" height="253.92" fill="#b4b4b4"/>
<rect x="512.60" y="20.30" width="0.80" height="253.92" fill="#b0b0b0"/>
<rect x="21.00" y="274.02" width="492.00" height="0.60" fill="#c8c8c8"/>
<line x1="21.3" y1="277.6" x2="21.3" y2="285.2" stroke="#111" stroke-width="0.9"/>
<line x1="512.9" y1="277.6" x2="512.9" y2="285.2" stroke="#111" stroke-width="0.9"/>
<line x1="22" y1="281.3" x2="247" y2="281.3" stroke="#222" stroke-width="0.9"/>
<line x1="293" y1="281.3" x2="512" y2="281.3" stroke="#222" stroke-width="0.9"/>
<path d="M21.8 281.3 L26 279.2 L26 283.40000000000003 Z" fill="#111"/>
<path d="M512.4 281.3 L508.2 279.2 L508.2 283.40000000000003 Z" fill="#111"/>
<text x="270.00" y="283.50" font-size="6.8" fill="#222" text-anchor="middle" textLength="41.6" lengthAdjust="spacingAndGlyphs" font-weight="normal" stroke="#222" stroke-width="0.16">Patients 1–195</text>
<text x="15.8" y="296.7" font-size="6.8" fill="#2b2b2b" stroke="#2b2b2b" stroke-width="0.12" textLength="28.8" lengthAdjust="spacingAndGlyphs">gl <tspan font-style="italic">DDX41</tspan>:</text>
<rect x="49.30" y="291.60" width="1.70" height="5.4" fill="#ed1c24"/>
<text x="53.2" y="296.7" font-size="6.8" fill="#2b2b2b" stroke="#2b2b2b" stroke-width="0.12" textLength="53.8" lengthAdjust="spacingAndGlyphs">Loss of start codon</text>
<rect x="114.40" y="291.60" width="1.60" height="5.4" fill="#111"/>
<text x="118.1" y="296.7" font-size="6.8" fill="#2b2b2b" stroke="#2b2b2b" stroke-width="0.12" textLength="32.3" lengthAdjust="spacingAndGlyphs">Frame-shift</text>
<rect x="158.00" y="291.60" width="1.60" height="5.4" fill="#3fb8ee"/>
<text x="162.0" y="296.7" font-size="6.8" fill="#2b2b2b" stroke="#2b2b2b" stroke-width="0.12" textLength="27.7" lengthAdjust="spacingAndGlyphs">Nonsense</text>
<rect x="199.00" y="291.60" width="1.50" height="5.4" fill="#2c4fa3"/>
<text x="202.6" y="296.7" font-size="6.8" fill="#2b2b2b" stroke="#2b2b2b" stroke-width="0.12" textLength="29.4" lengthAdjust="spacingAndGlyphs">Splice-site</text>
<rect x="239.20" y="291.60" width="1.70" height="5.4" fill="#9fb0e6"/>
<rect x="239.6" y="293.4" width="0.9" height="1.3" fill="#fff"/>
<text x="243.0" y="296.7" font-size="6.8" fill="#2b2b2b" stroke="#2b2b2b" stroke-width="0.12" textLength="43.2" lengthAdjust="spacingAndGlyphs">Splice-site VUS</text>
<rect x="293.60" y="291.60" width="1.30" height="5.4" fill="#8cc63f"/>
<text x="296.9" y="296.7" font-size="6.8" fill="#2b2b2b" stroke="#2b2b2b" stroke-width="0.12" textLength="35.1" lengthAdjust="spacingAndGlyphs">In-frame del</text>
<rect x="341.30" y="291.60" width="1.40" height="5.4" fill="#8a8a8a"/>
<text x="344.7" y="296.7" font-size="6.8" fill="#2b2b2b" stroke="#2b2b2b" stroke-width="0.12" textLength="26.1" lengthAdjust="spacingAndGlyphs">Missense</text>
<rect x="378.20" y="291.60" width="1.80" height="5.4" fill="#f7941d"/>
<text x="381.9" y="296.7" font-size="6.8" fill="#2b2b2b" stroke="#2b2b2b" stroke-width="0.12" textLength="26.3" lengthAdjust="spacingAndGlyphs">p.R164W</text>
<text x="16.5" y="306.7" font-size="6.8" fill="#2b2b2b" stroke="#2b2b2b" stroke-width="0.12" font-style="italic" textLength="27.7" lengthAdjust="spacingAndGlyphs">s DDX41:</text>
<rect x="47.00" y="301.60" width="1.40" height="5.4" fill="#fff200"/>
<text x="50.4" y="306.7" font-size="6.8" fill="#2b2b2b" stroke="#2b2b2b" stroke-width="0.12" textLength="24.7" lengthAdjust="spacingAndGlyphs">p.R525H</text>
<rect x="82.00" y="301.60" width="1.80" height="5.4" fill="#f15a24"/>
<text x="86.2" y="306.7" font-size="6.8" fill="#2b2b2b" stroke="#2b2b2b" stroke-width="0.12" textLength="25.4" lengthAdjust="spacingAndGlyphs">p.G530D</text>
<rect x="119.40" y="301.60" width="1.60" height="5.4" fill="#c48a2c"/>
<text x="123.2" y="306.7" font-size="6.8" fill="#2b2b2b" stroke="#2b2b2b" stroke-width="0.12" textLength="54.5" lengthAdjust="spacingAndGlyphs">Other missense CV</text>
<rect x="185.00" y="301.60" width="1.40" height="5.4" fill="#2c4fa3"/>
<text x="188.5" y="306.7" font-size="6.8" fill="#2b2b2b" stroke="#2b2b2b" stroke-width="0.12" textLength="29.6" lengthAdjust="spacingAndGlyphs">Splice-site</text>
<rect x="225.40" y="301.60" width="1.30" height="5.4" fill="#9fb0e6"/>
<text x="228.9" y="306.7" font-size="6.8" fill="#2b2b2b" stroke="#2b2b2b" stroke-width="0.12" textLength="40.4" lengthAdjust="spacingAndGlyphs">Missense VUS</text>
<rect x="275.50" y="301.70" width="2.40" height="5" fill="#666"/><rect x="276.10" y="302.30" width="1.20" height="3.8" fill="#ddd"/>
<text x="279.7" y="306.7" font-size="6.8" fill="#2b2b2b" stroke="#2b2b2b" stroke-width="0.12" textLength="11.5" lengthAdjust="spacingAndGlyphs">NM</text>
<text x="16.5" y="316.7" font-size="6.8" fill="#2b2b2b" stroke="#2b2b2b" stroke-width="0.12" textLength="30.0" lengthAdjust="spacingAndGlyphs">Diagnosis:</text>
<path d="M50.80 311.50V315.20" stroke="#111" stroke-width="0.7"/><path d="M49.60 314.50L52.00 314.50L50.80 316.90Z" fill="#111"/>
<text x="53.9" y="316.7" font-size="6.8" fill="#2b2b2b" stroke="#2b2b2b" stroke-width="0.12" textLength="12.7" lengthAdjust="spacingAndGlyphs">A&amp;B</text>
<path d="M73.00 311.50V315.20" stroke="#f7941d" stroke-width="0.7"/><path d="M71.80 314.50L74.20 314.50L73.00 316.90Z" fill="#f7941d"/>
<text x="75.8" y="316.7" font-size="6.8" fill="#2b2b2b" stroke="#2b2b2b" stroke-width="0.12" textLength="46.2" lengthAdjust="spacingAndGlyphs">MDS; MM; MBL</text>
<rect x="128.80" y="313.80" width="2.70" height="1.3" fill="#2c4fa3"/>
<text x="133.9" y="316.7" font-size="6.8" fill="#2b2b2b" stroke="#2b2b2b" stroke-width="0.12" textLength="38.1" lengthAdjust="spacingAndGlyphs">Pancytopenia</text>
<rect x="178.90" y="313.80" width="3.00" height="1.3" fill="#9fb7ea"/>
<text x="184.2" y="316.7" font-size="6.8" fill="#2b2b2b" stroke="#2b2b2b" stroke-width="0.12" textLength="53.6" lengthAdjust="spacingAndGlyphs">Thrombocytopenia</text>
<rect x="245.00" y="313.80" width="3.00" height="1.3" fill="#a8d79b"/>
<text x="250.3" y="316.7" font-size="6.8" fill="#2b2b2b" stroke="#2b2b2b" stroke-width="0.12" textLength="35.6" lengthAdjust="spacingAndGlyphs">Neutropenia</text>
<rect x="292.80" y="313.80" width="3.00" height="1.3" fill="#2e8a3c"/>
<text x="298.1" y="316.7" font-size="6.8" fill="#2b2b2b" stroke="#2b2b2b" stroke-width="0.12" textLength="21.5" lengthAdjust="spacingAndGlyphs">Anemia</text>
<path d="M325.60 311.50V315.20" stroke="#b0209a" stroke-width="0.7"/><path d="M324.40 314.50L326.80 314.50L325.60 316.90Z" fill="#b0209a"/>
<text x="327.0" y="316.7" font-size="6.8" fill="#2b2b2b" stroke="#2b2b2b" stroke-width="0.12" textLength="11.5" lengthAdjust="spacingAndGlyphs">LPL</text>
<path d="M344.20 311.50V315.20" stroke="#3fb8ee" stroke-width="0.7"/><path d="M343.00 314.50L345.40 314.50L344.20 316.90Z" fill="#3fb8ee"/>
<text x="346.1" y="316.7" font-size="6.8" fill="#2b2b2b" stroke="#2b2b2b" stroke-width="0.12" textLength="23.1" lengthAdjust="spacingAndGlyphs">CLL &amp; B</text>
<path d="M375.80 311.50V315.20" stroke="#e2202a" stroke-width="0.7"/><path d="M374.60 314.50L377.00 314.50L375.80 316.90Z" fill="#e2202a"/>
<text x="377.7" y="316.7" font-size="6.8" fill="#2b2b2b" stroke="#2b2b2b" stroke-width="0.12" textLength="10.9" lengthAdjust="spacingAndGlyphs">CLL</text>
<path d="M395.00 311.50V315.20" stroke="#3a9a48" stroke-width="0.7"/><path d="M393.80 314.50L396.20 314.50L395.00 316.90Z" fill="#3a9a48"/>
<text x="396.9" y="316.7" font-size="6.8" fill="#2b2b2b" stroke="#2b2b2b" stroke-width="0.12" textLength="12.0" lengthAdjust="spacingAndGlyphs">MM</text>
<path d="M415.50 311.50V315.20" stroke="#2c4fa3" stroke-width="0.7"/><path d="M414.30 314.50L416.70 314.50L415.50 316.90Z" fill="#2c4fa3"/>
<text x="417.5" y="316.7" font-size="6.8" fill="#2b2b2b" stroke="#2b2b2b" stroke-width="0.12" textLength="41.4" lengthAdjust="spacingAndGlyphs">AML &amp; DLBCL</text>
<rect x="465.8" y="312.3" width="3" height="3.2" fill="#9b2a8e"/>
<text x="470.4" y="316.7" font-size="6.8" fill="#2b2b2b" stroke="#2b2b2b" stroke-width="0.12" textLength="13.9" lengthAdjust="spacingAndGlyphs">AML</text>
<rect x="491.2" y="312.3" width="3" height="3.2" fill="#a64ea0"/>
<text x="496.3" y="316.7" font-size="6.8" fill="#2b2b2b" stroke="#2b2b2b" stroke-width="0.12" textLength="14.6" lengthAdjust="spacingAndGlyphs">MDS</text>
<text x="16.5" y="326.7" font-size="6.8" fill="#2b2b2b" stroke="#2b2b2b" stroke-width="0.12" textLength="39.2" lengthAdjust="spacingAndGlyphs">Cytogenetics:</text>
<rect x="60.30" y="321.60" width="1.40" height="5.4" fill="#6fc6f0"/>
<text x="63.6" y="326.7" font-size="6.8" fill="#2b2b2b" stroke="#2b2b2b" stroke-width="0.12" textLength="8.8" lengthAdjust="spacingAndGlyphs">NL</text>
<rect x="79.30" y="321.60" width="1.40" height="5.4" fill="#1f6e8c"/>
<text x="82.3" y="326.7" font-size="6.8" fill="#2b2b2b" stroke="#2b2b2b" stroke-width="0.12" textLength="8.5" lengthAdjust="spacingAndGlyphs">LR</text>
<rect x="98.00" y="321.60" width="1.70" height="5.4" fill="#111"/>
<text x="102.0" y="326.7" font-size="6.8" fill="#2b2b2b" stroke="#2b2b2b" stroke-width="0.12" textLength="25.4" lengthAdjust="spacingAndGlyphs">Complex</text>
<rect x="135.00" y="321.60" width="1.70" height="5.4" fill="#e2202a"/>
<text x="138.5" y="326.7" font-size="6.8" fill="#2b2b2b" stroke="#2b2b2b" stroke-width="0.12" textLength="13.4" lengthAdjust="spacingAndGlyphs">RCA</text>
<rect x="158.10" y="321.70" width="2.30" height="5" fill="#555"/><rect x="158.70" y="322.30" width="1.10" height="3.8" fill="#ccc"/>
<text x="162.3" y="326.7" font-size="6.8" fill="#2b2b2b" stroke="#2b2b2b" stroke-width="0.12" textLength="7.4" lengthAdjust="spacingAndGlyphs">NI</text>
<rect x="0.5" y="0.5" width="518.6" height="332.6" fill="none" stroke="#000" stroke-width="1.1"/>
</svg>
</body></html>
